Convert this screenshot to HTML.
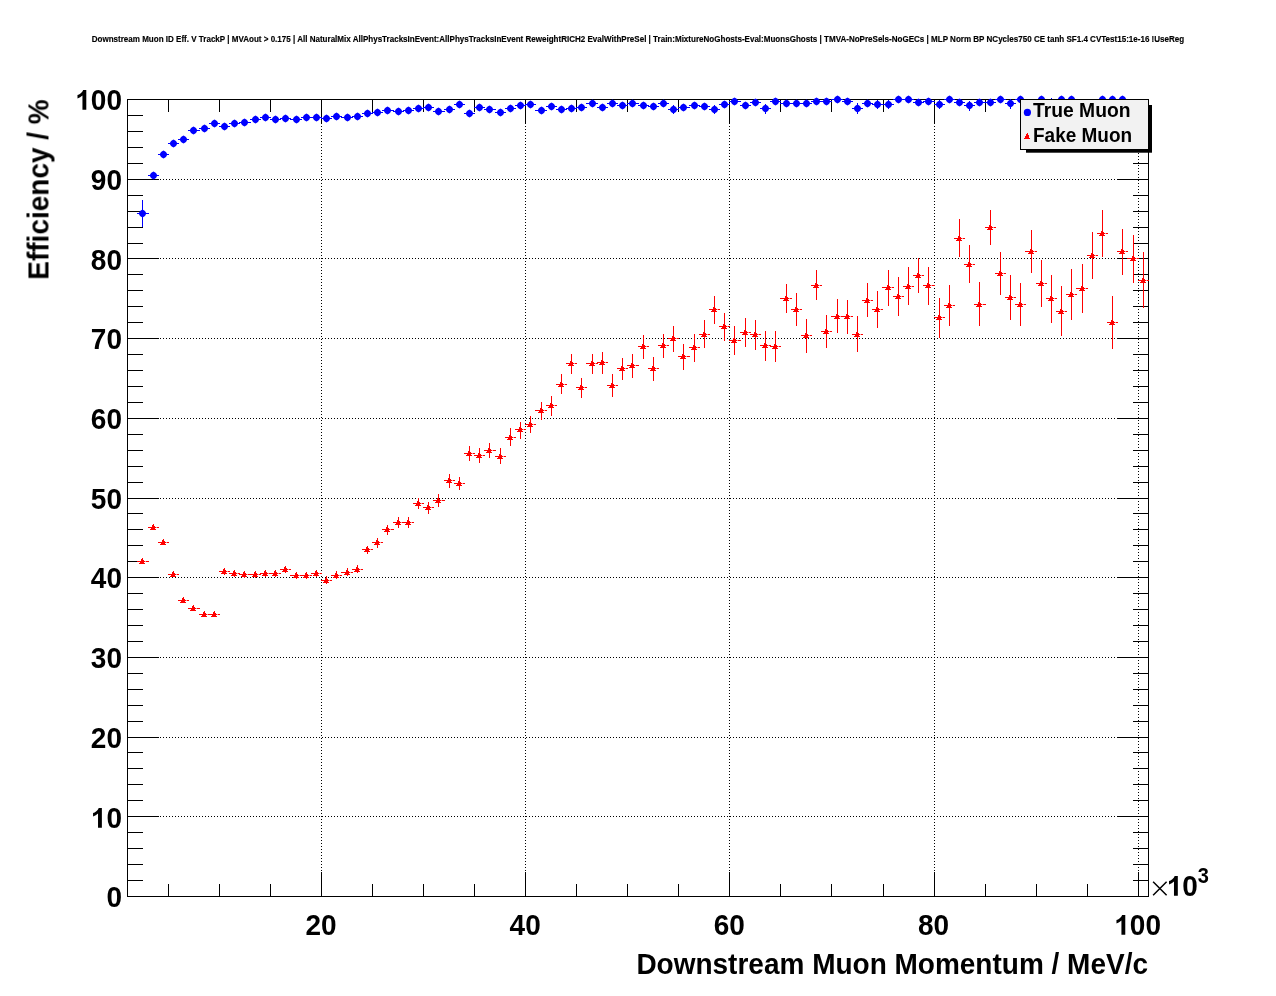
<!DOCTYPE html><html><head><meta charset="utf-8"><title>chart</title><style>html,body{margin:0;padding:0;background:#fff}svg{display:block}text{font-family:"Liberation Sans",sans-serif;font-weight:bold;fill:#000}</style></head><body>
<svg width="1276" height="996" viewBox="0 0 1276 996">
<rect width="1276" height="996" fill="#fff"/>
<g style="will-change:transform">
<text transform="translate(91.7,42) scale(1,1.06)" font-size="8.03" textLength="1092.5" lengthAdjust="spacingAndGlyphs" stroke="#000" stroke-width="0.15">Downstream Muon ID Eff. V TrackP | MVAout &gt; 0.175 | All NaturalMix AllPhysTracksInEvent:AllPhysTracksInEvent ReweightRICH2 EvalWithPreSel | Train:MixtureNoGhosts-Eval:MuonsGhosts | TMVA-NoPreSels-NoGECs | MLP Norm BP NCycles750 CE tanh SF1.4 CVTest15:1e-16 !UseReg</text>
</g>
<g stroke="#000" stroke-width="1" shape-rendering="crispEdges" stroke-dasharray="1,2">
<line x1="321.5" y1="99" x2="321.5" y2="896"/>
<line x1="525.5" y1="99" x2="525.5" y2="896"/>
<line x1="729.5" y1="99" x2="729.5" y2="896"/>
<line x1="934.5" y1="99" x2="934.5" y2="896"/>
<line x1="1138.5" y1="99" x2="1138.5" y2="896"/>
<line x1="127" y1="816.5" x2="1148" y2="816.5"/>
<line x1="127" y1="737.5" x2="1148" y2="737.5"/>
<line x1="127" y1="657.5" x2="1148" y2="657.5"/>
<line x1="127" y1="577.5" x2="1148" y2="577.5"/>
<line x1="127" y1="498.5" x2="1148" y2="498.5"/>
<line x1="127" y1="418.5" x2="1148" y2="418.5"/>
<line x1="127" y1="338.5" x2="1148" y2="338.5"/>
<line x1="127" y1="258.5" x2="1148" y2="258.5"/>
<line x1="127" y1="179.5" x2="1148" y2="179.5"/>
</g>
<g stroke="#000" stroke-width="1" shape-rendering="crispEdges" fill="none">
<rect x="127.5" y="99.5" width="1021" height="797"/>
<line x1="168.5" y1="896.5" x2="168.5" y2="884.0"/>
<line x1="168.5" y1="99.5" x2="168.5" y2="112.0"/>
<line x1="219.5" y1="896.5" x2="219.5" y2="884.0"/>
<line x1="219.5" y1="99.5" x2="219.5" y2="112.0"/>
<line x1="270.5" y1="896.5" x2="270.5" y2="884.0"/>
<line x1="270.5" y1="99.5" x2="270.5" y2="112.0"/>
<line x1="321.5" y1="896.5" x2="321.5" y2="872.0"/>
<line x1="321.5" y1="99.5" x2="321.5" y2="124.0"/>
<line x1="372.5" y1="896.5" x2="372.5" y2="884.0"/>
<line x1="372.5" y1="99.5" x2="372.5" y2="112.0"/>
<line x1="423.5" y1="896.5" x2="423.5" y2="884.0"/>
<line x1="423.5" y1="99.5" x2="423.5" y2="112.0"/>
<line x1="474.5" y1="896.5" x2="474.5" y2="884.0"/>
<line x1="474.5" y1="99.5" x2="474.5" y2="112.0"/>
<line x1="525.5" y1="896.5" x2="525.5" y2="872.0"/>
<line x1="525.5" y1="99.5" x2="525.5" y2="124.0"/>
<line x1="576.5" y1="896.5" x2="576.5" y2="884.0"/>
<line x1="576.5" y1="99.5" x2="576.5" y2="112.0"/>
<line x1="627.5" y1="896.5" x2="627.5" y2="884.0"/>
<line x1="627.5" y1="99.5" x2="627.5" y2="112.0"/>
<line x1="678.5" y1="896.5" x2="678.5" y2="884.0"/>
<line x1="678.5" y1="99.5" x2="678.5" y2="112.0"/>
<line x1="729.5" y1="896.5" x2="729.5" y2="872.0"/>
<line x1="729.5" y1="99.5" x2="729.5" y2="124.0"/>
<line x1="780.5" y1="896.5" x2="780.5" y2="884.0"/>
<line x1="780.5" y1="99.5" x2="780.5" y2="112.0"/>
<line x1="831.5" y1="896.5" x2="831.5" y2="884.0"/>
<line x1="831.5" y1="99.5" x2="831.5" y2="112.0"/>
<line x1="883.5" y1="896.5" x2="883.5" y2="884.0"/>
<line x1="883.5" y1="99.5" x2="883.5" y2="112.0"/>
<line x1="934.5" y1="896.5" x2="934.5" y2="872.0"/>
<line x1="934.5" y1="99.5" x2="934.5" y2="124.0"/>
<line x1="985.5" y1="896.5" x2="985.5" y2="884.0"/>
<line x1="985.5" y1="99.5" x2="985.5" y2="112.0"/>
<line x1="1036.5" y1="896.5" x2="1036.5" y2="884.0"/>
<line x1="1036.5" y1="99.5" x2="1036.5" y2="112.0"/>
<line x1="1087.5" y1="896.5" x2="1087.5" y2="884.0"/>
<line x1="1087.5" y1="99.5" x2="1087.5" y2="112.0"/>
<line x1="1138.5" y1="896.5" x2="1138.5" y2="872.0"/>
<line x1="1138.5" y1="99.5" x2="1138.5" y2="124.0"/>
<line x1="127.5" y1="896.5" x2="159.0" y2="896.5"/>
<line x1="1148.5" y1="896.5" x2="1117.0" y2="896.5"/>
<line x1="127.5" y1="880.5" x2="143.0" y2="880.5"/>
<line x1="1148.5" y1="880.5" x2="1133.0" y2="880.5"/>
<line x1="127.5" y1="864.5" x2="143.0" y2="864.5"/>
<line x1="1148.5" y1="864.5" x2="1133.0" y2="864.5"/>
<line x1="127.5" y1="848.5" x2="143.0" y2="848.5"/>
<line x1="1148.5" y1="848.5" x2="1133.0" y2="848.5"/>
<line x1="127.5" y1="832.5" x2="143.0" y2="832.5"/>
<line x1="1148.5" y1="832.5" x2="1133.0" y2="832.5"/>
<line x1="127.5" y1="816.5" x2="159.0" y2="816.5"/>
<line x1="1148.5" y1="816.5" x2="1117.0" y2="816.5"/>
<line x1="127.5" y1="800.5" x2="143.0" y2="800.5"/>
<line x1="1148.5" y1="800.5" x2="1133.0" y2="800.5"/>
<line x1="127.5" y1="784.5" x2="143.0" y2="784.5"/>
<line x1="1148.5" y1="784.5" x2="1133.0" y2="784.5"/>
<line x1="127.5" y1="768.5" x2="143.0" y2="768.5"/>
<line x1="1148.5" y1="768.5" x2="1133.0" y2="768.5"/>
<line x1="127.5" y1="752.5" x2="143.0" y2="752.5"/>
<line x1="1148.5" y1="752.5" x2="1133.0" y2="752.5"/>
<line x1="127.5" y1="737.5" x2="159.0" y2="737.5"/>
<line x1="1148.5" y1="737.5" x2="1117.0" y2="737.5"/>
<line x1="127.5" y1="721.5" x2="143.0" y2="721.5"/>
<line x1="1148.5" y1="721.5" x2="1133.0" y2="721.5"/>
<line x1="127.5" y1="705.5" x2="143.0" y2="705.5"/>
<line x1="1148.5" y1="705.5" x2="1133.0" y2="705.5"/>
<line x1="127.5" y1="689.5" x2="143.0" y2="689.5"/>
<line x1="1148.5" y1="689.5" x2="1133.0" y2="689.5"/>
<line x1="127.5" y1="673.5" x2="143.0" y2="673.5"/>
<line x1="1148.5" y1="673.5" x2="1133.0" y2="673.5"/>
<line x1="127.5" y1="657.5" x2="159.0" y2="657.5"/>
<line x1="1148.5" y1="657.5" x2="1117.0" y2="657.5"/>
<line x1="127.5" y1="641.5" x2="143.0" y2="641.5"/>
<line x1="1148.5" y1="641.5" x2="1133.0" y2="641.5"/>
<line x1="127.5" y1="625.5" x2="143.0" y2="625.5"/>
<line x1="1148.5" y1="625.5" x2="1133.0" y2="625.5"/>
<line x1="127.5" y1="609.5" x2="143.0" y2="609.5"/>
<line x1="1148.5" y1="609.5" x2="1133.0" y2="609.5"/>
<line x1="127.5" y1="593.5" x2="143.0" y2="593.5"/>
<line x1="1148.5" y1="593.5" x2="1133.0" y2="593.5"/>
<line x1="127.5" y1="577.5" x2="159.0" y2="577.5"/>
<line x1="1148.5" y1="577.5" x2="1117.0" y2="577.5"/>
<line x1="127.5" y1="561.5" x2="143.0" y2="561.5"/>
<line x1="1148.5" y1="561.5" x2="1133.0" y2="561.5"/>
<line x1="127.5" y1="545.5" x2="143.0" y2="545.5"/>
<line x1="1148.5" y1="545.5" x2="1133.0" y2="545.5"/>
<line x1="127.5" y1="529.5" x2="143.0" y2="529.5"/>
<line x1="1148.5" y1="529.5" x2="1133.0" y2="529.5"/>
<line x1="127.5" y1="513.5" x2="143.0" y2="513.5"/>
<line x1="1148.5" y1="513.5" x2="1133.0" y2="513.5"/>
<line x1="127.5" y1="498.5" x2="159.0" y2="498.5"/>
<line x1="1148.5" y1="498.5" x2="1117.0" y2="498.5"/>
<line x1="127.5" y1="482.5" x2="143.0" y2="482.5"/>
<line x1="1148.5" y1="482.5" x2="1133.0" y2="482.5"/>
<line x1="127.5" y1="466.5" x2="143.0" y2="466.5"/>
<line x1="1148.5" y1="466.5" x2="1133.0" y2="466.5"/>
<line x1="127.5" y1="450.5" x2="143.0" y2="450.5"/>
<line x1="1148.5" y1="450.5" x2="1133.0" y2="450.5"/>
<line x1="127.5" y1="434.5" x2="143.0" y2="434.5"/>
<line x1="1148.5" y1="434.5" x2="1133.0" y2="434.5"/>
<line x1="127.5" y1="418.5" x2="159.0" y2="418.5"/>
<line x1="1148.5" y1="418.5" x2="1117.0" y2="418.5"/>
<line x1="127.5" y1="402.5" x2="143.0" y2="402.5"/>
<line x1="1148.5" y1="402.5" x2="1133.0" y2="402.5"/>
<line x1="127.5" y1="386.5" x2="143.0" y2="386.5"/>
<line x1="1148.5" y1="386.5" x2="1133.0" y2="386.5"/>
<line x1="127.5" y1="370.5" x2="143.0" y2="370.5"/>
<line x1="1148.5" y1="370.5" x2="1133.0" y2="370.5"/>
<line x1="127.5" y1="354.5" x2="143.0" y2="354.5"/>
<line x1="1148.5" y1="354.5" x2="1133.0" y2="354.5"/>
<line x1="127.5" y1="338.5" x2="159.0" y2="338.5"/>
<line x1="1148.5" y1="338.5" x2="1117.0" y2="338.5"/>
<line x1="127.5" y1="322.5" x2="143.0" y2="322.5"/>
<line x1="1148.5" y1="322.5" x2="1133.0" y2="322.5"/>
<line x1="127.5" y1="306.5" x2="143.0" y2="306.5"/>
<line x1="1148.5" y1="306.5" x2="1133.0" y2="306.5"/>
<line x1="127.5" y1="290.5" x2="143.0" y2="290.5"/>
<line x1="1148.5" y1="290.5" x2="1133.0" y2="290.5"/>
<line x1="127.5" y1="274.5" x2="143.0" y2="274.5"/>
<line x1="1148.5" y1="274.5" x2="1133.0" y2="274.5"/>
<line x1="127.5" y1="258.5" x2="159.0" y2="258.5"/>
<line x1="1148.5" y1="258.5" x2="1117.0" y2="258.5"/>
<line x1="127.5" y1="243.5" x2="143.0" y2="243.5"/>
<line x1="1148.5" y1="243.5" x2="1133.0" y2="243.5"/>
<line x1="127.5" y1="227.5" x2="143.0" y2="227.5"/>
<line x1="1148.5" y1="227.5" x2="1133.0" y2="227.5"/>
<line x1="127.5" y1="211.5" x2="143.0" y2="211.5"/>
<line x1="1148.5" y1="211.5" x2="1133.0" y2="211.5"/>
<line x1="127.5" y1="195.5" x2="143.0" y2="195.5"/>
<line x1="1148.5" y1="195.5" x2="1133.0" y2="195.5"/>
<line x1="127.5" y1="179.5" x2="159.0" y2="179.5"/>
<line x1="1148.5" y1="179.5" x2="1117.0" y2="179.5"/>
<line x1="127.5" y1="163.5" x2="143.0" y2="163.5"/>
<line x1="1148.5" y1="163.5" x2="1133.0" y2="163.5"/>
<line x1="127.5" y1="147.5" x2="143.0" y2="147.5"/>
<line x1="1148.5" y1="147.5" x2="1133.0" y2="147.5"/>
<line x1="127.5" y1="131.5" x2="143.0" y2="131.5"/>
<line x1="1148.5" y1="131.5" x2="1133.0" y2="131.5"/>
<line x1="127.5" y1="115.5" x2="143.0" y2="115.5"/>
<line x1="1148.5" y1="115.5" x2="1133.0" y2="115.5"/>
<line x1="127.5" y1="99.5" x2="159.0" y2="99.5"/>
<line x1="1148.5" y1="99.5" x2="1117.0" y2="99.5"/>
</g>
<g stroke="#f00" stroke-width="1" shape-rendering="crispEdges">
<line x1="137" y1="561.5" x2="145" y2="561.5"/>
<line x1="146" y1="561.5" x2="149" y2="561.5"/>
<line x1="142.5" y1="558.7" x2="142.5" y2="563.5"/>
<line x1="145" y1="561.5" x2="146" y2="561.5" stroke="#ff9a9a"/>
<line x1="148" y1="527.5" x2="156" y2="527.5"/>
<line x1="157" y1="527.5" x2="159" y2="527.5"/>
<line x1="153.5" y1="525.2" x2="153.5" y2="529.0"/>
<line x1="156" y1="527.5" x2="157" y2="527.5" stroke="#ff9a9a"/>
<line x1="158" y1="542.5" x2="166" y2="542.5"/>
<line x1="167" y1="542.5" x2="169" y2="542.5"/>
<line x1="163.5" y1="540.2" x2="163.5" y2="544.0"/>
<line x1="166" y1="542.5" x2="167" y2="542.5" stroke="#ff9a9a"/>
<line x1="168" y1="574.5" x2="176" y2="574.5"/>
<line x1="177" y1="574.5" x2="179" y2="574.5"/>
<line x1="173.5" y1="572.2" x2="173.5" y2="576.0"/>
<line x1="176" y1="574.5" x2="177" y2="574.5" stroke="#ff9a9a"/>
<line x1="178" y1="600.5" x2="186" y2="600.5"/>
<line x1="187" y1="600.5" x2="189" y2="600.5"/>
<line x1="183.5" y1="598.2" x2="183.5" y2="602.0"/>
<line x1="186" y1="600.5" x2="187" y2="600.5" stroke="#ff9a9a"/>
<line x1="188" y1="608.5" x2="196" y2="608.5"/>
<line x1="197" y1="608.5" x2="200" y2="608.5"/>
<line x1="193.5" y1="606.2" x2="193.5" y2="610.0"/>
<line x1="196" y1="608.5" x2="197" y2="608.5" stroke="#ff9a9a"/>
<line x1="199" y1="614.5" x2="207" y2="614.5"/>
<line x1="208" y1="614.5" x2="210" y2="614.5"/>
<line x1="204.5" y1="612.2" x2="204.5" y2="616.0"/>
<line x1="207" y1="614.5" x2="208" y2="614.5" stroke="#ff9a9a"/>
<line x1="209" y1="614.5" x2="217" y2="614.5"/>
<line x1="218" y1="614.5" x2="220" y2="614.5"/>
<line x1="214.5" y1="612.2" x2="214.5" y2="616.0"/>
<line x1="217" y1="614.5" x2="218" y2="614.5" stroke="#ff9a9a"/>
<line x1="219" y1="571.5" x2="227" y2="571.5"/>
<line x1="228" y1="571.5" x2="230" y2="571.5"/>
<line x1="224.5" y1="567.7" x2="224.5" y2="574.5"/>
<line x1="227" y1="571.5" x2="228" y2="571.5" stroke="#ff9a9a"/>
<line x1="229" y1="573.5" x2="237" y2="573.5"/>
<line x1="238" y1="573.5" x2="240" y2="573.5"/>
<line x1="234.5" y1="569.7" x2="234.5" y2="576.5"/>
<line x1="237" y1="573.5" x2="238" y2="573.5" stroke="#ff9a9a"/>
<line x1="239" y1="574.5" x2="247" y2="574.5"/>
<line x1="248" y1="574.5" x2="251" y2="574.5"/>
<line x1="244.5" y1="570.7" x2="244.5" y2="577.5"/>
<line x1="247" y1="574.5" x2="248" y2="574.5" stroke="#ff9a9a"/>
<line x1="250" y1="574.5" x2="258" y2="574.5"/>
<line x1="259" y1="574.5" x2="261" y2="574.5"/>
<line x1="255.5" y1="570.7" x2="255.5" y2="577.5"/>
<line x1="258" y1="574.5" x2="259" y2="574.5" stroke="#ff9a9a"/>
<line x1="260" y1="573.5" x2="268" y2="573.5"/>
<line x1="269" y1="573.5" x2="271" y2="573.5"/>
<line x1="265.5" y1="569.7" x2="265.5" y2="576.5"/>
<line x1="268" y1="573.5" x2="269" y2="573.5" stroke="#ff9a9a"/>
<line x1="270" y1="573.5" x2="278" y2="573.5"/>
<line x1="279" y1="573.5" x2="281" y2="573.5"/>
<line x1="275.5" y1="569.7" x2="275.5" y2="576.5"/>
<line x1="278" y1="573.5" x2="279" y2="573.5" stroke="#ff9a9a"/>
<line x1="280" y1="569.5" x2="288" y2="569.5"/>
<line x1="289" y1="569.5" x2="291" y2="569.5"/>
<line x1="285.5" y1="565.7" x2="285.5" y2="572.5"/>
<line x1="288" y1="569.5" x2="289" y2="569.5" stroke="#ff9a9a"/>
<line x1="290" y1="575.5" x2="299" y2="575.5"/>
<line x1="300" y1="575.5" x2="302" y2="575.5"/>
<line x1="296.5" y1="571.7" x2="296.5" y2="578.5"/>
<line x1="299" y1="575.5" x2="300" y2="575.5" stroke="#ff9a9a"/>
<line x1="301" y1="575.5" x2="309" y2="575.5"/>
<line x1="310" y1="575.5" x2="312" y2="575.5"/>
<line x1="306.5" y1="571.7" x2="306.5" y2="578.5"/>
<line x1="309" y1="575.5" x2="310" y2="575.5" stroke="#ff9a9a"/>
<line x1="311" y1="573.5" x2="319" y2="573.5"/>
<line x1="320" y1="573.5" x2="322" y2="573.5"/>
<line x1="316.5" y1="569.7" x2="316.5" y2="576.5"/>
<line x1="319" y1="573.5" x2="320" y2="573.5" stroke="#ff9a9a"/>
<line x1="321" y1="580.5" x2="329" y2="580.5"/>
<line x1="330" y1="580.5" x2="332" y2="580.5"/>
<line x1="326.5" y1="576.2" x2="326.5" y2="584.0"/>
<line x1="329" y1="580.5" x2="330" y2="580.5" stroke="#ff9a9a"/>
<line x1="331" y1="575.5" x2="339" y2="575.5"/>
<line x1="340" y1="575.5" x2="342" y2="575.5"/>
<line x1="336.5" y1="571.2" x2="336.5" y2="579.0"/>
<line x1="339" y1="575.5" x2="340" y2="575.5" stroke="#ff9a9a"/>
<line x1="341" y1="572.5" x2="350" y2="572.5"/>
<line x1="351" y1="572.5" x2="353" y2="572.5"/>
<line x1="347.5" y1="568.2" x2="347.5" y2="576.0"/>
<line x1="350" y1="572.5" x2="351" y2="572.5" stroke="#ff9a9a"/>
<line x1="352" y1="569.5" x2="360" y2="569.5"/>
<line x1="361" y1="569.5" x2="363" y2="569.5"/>
<line x1="357.5" y1="564.9" x2="357.5" y2="573.3"/>
<line x1="360" y1="569.5" x2="361" y2="569.5" stroke="#ff9a9a"/>
<line x1="362" y1="549.5" x2="370" y2="549.5"/>
<line x1="371" y1="549.5" x2="373" y2="549.5"/>
<line x1="367.5" y1="546" x2="367.5" y2="554"/>
<line x1="370" y1="549.5" x2="371" y2="549.5" stroke="#ff9a9a"/>
<line x1="372" y1="542.5" x2="380" y2="542.5"/>
<line x1="381" y1="542.5" x2="383" y2="542.5"/>
<line x1="377.5" y1="538" x2="377.5" y2="548"/>
<line x1="380" y1="542.5" x2="381" y2="542.5" stroke="#ff9a9a"/>
<line x1="382" y1="529.5" x2="390" y2="529.5"/>
<line x1="391" y1="529.5" x2="394" y2="529.5"/>
<line x1="387.5" y1="525" x2="387.5" y2="535"/>
<line x1="390" y1="529.5" x2="391" y2="529.5" stroke="#ff9a9a"/>
<line x1="393" y1="522.5" x2="401" y2="522.5"/>
<line x1="402" y1="522.5" x2="404" y2="522.5"/>
<line x1="398.5" y1="517" x2="398.5" y2="528"/>
<line x1="401" y1="522.5" x2="402" y2="522.5" stroke="#ff9a9a"/>
<line x1="403" y1="522.5" x2="411" y2="522.5"/>
<line x1="412" y1="522.5" x2="414" y2="522.5"/>
<line x1="408.5" y1="517" x2="408.5" y2="528"/>
<line x1="411" y1="522.5" x2="412" y2="522.5" stroke="#ff9a9a"/>
<line x1="413" y1="503.5" x2="421" y2="503.5"/>
<line x1="422" y1="503.5" x2="424" y2="503.5"/>
<line x1="418.5" y1="498" x2="418.5" y2="509"/>
<line x1="421" y1="503.5" x2="422" y2="503.5" stroke="#ff9a9a"/>
<line x1="423" y1="507.5" x2="431" y2="507.5"/>
<line x1="432" y1="507.5" x2="434" y2="507.5"/>
<line x1="428.5" y1="502" x2="428.5" y2="514"/>
<line x1="431" y1="507.5" x2="432" y2="507.5" stroke="#ff9a9a"/>
<line x1="433" y1="500.5" x2="441" y2="500.5"/>
<line x1="442" y1="500.5" x2="445" y2="500.5"/>
<line x1="438.5" y1="494" x2="438.5" y2="507"/>
<line x1="441" y1="500.5" x2="442" y2="500.5" stroke="#ff9a9a"/>
<line x1="444" y1="480.5" x2="452" y2="480.5"/>
<line x1="453" y1="480.5" x2="455" y2="480.5"/>
<line x1="449.5" y1="474" x2="449.5" y2="488"/>
<line x1="452" y1="480.5" x2="453" y2="480.5" stroke="#ff9a9a"/>
<line x1="454" y1="483.5" x2="462" y2="483.5"/>
<line x1="463" y1="483.5" x2="465" y2="483.5"/>
<line x1="459.5" y1="477" x2="459.5" y2="490"/>
<line x1="462" y1="483.5" x2="463" y2="483.5" stroke="#ff9a9a"/>
<line x1="464" y1="453.5" x2="472" y2="453.5"/>
<line x1="473" y1="453.5" x2="475" y2="453.5"/>
<line x1="469.5" y1="446" x2="469.5" y2="461"/>
<line x1="472" y1="453.5" x2="473" y2="453.5" stroke="#ff9a9a"/>
<line x1="474" y1="455.5" x2="482" y2="455.5"/>
<line x1="483" y1="455.5" x2="485" y2="455.5"/>
<line x1="479.5" y1="448" x2="479.5" y2="463"/>
<line x1="482" y1="455.5" x2="483" y2="455.5" stroke="#ff9a9a"/>
<line x1="484" y1="450.5" x2="492" y2="450.5"/>
<line x1="493" y1="450.5" x2="496" y2="450.5"/>
<line x1="489.5" y1="443" x2="489.5" y2="458"/>
<line x1="492" y1="450.5" x2="493" y2="450.5" stroke="#ff9a9a"/>
<line x1="495" y1="456.5" x2="503" y2="456.5"/>
<line x1="504" y1="456.5" x2="506" y2="456.5"/>
<line x1="500.5" y1="448" x2="500.5" y2="464"/>
<line x1="503" y1="456.5" x2="504" y2="456.5" stroke="#ff9a9a"/>
<line x1="505" y1="437.5" x2="513" y2="437.5"/>
<line x1="514" y1="437.5" x2="516" y2="437.5"/>
<line x1="510.5" y1="428" x2="510.5" y2="446"/>
<line x1="513" y1="437.5" x2="514" y2="437.5" stroke="#ff9a9a"/>
<line x1="515" y1="429.5" x2="523" y2="429.5"/>
<line x1="524" y1="429.5" x2="526" y2="429.5"/>
<line x1="520.5" y1="422" x2="520.5" y2="439"/>
<line x1="523" y1="429.5" x2="524" y2="429.5" stroke="#ff9a9a"/>
<line x1="525" y1="424.5" x2="533" y2="424.5"/>
<line x1="534" y1="424.5" x2="536" y2="424.5"/>
<line x1="530.5" y1="416" x2="530.5" y2="433"/>
<line x1="533" y1="424.5" x2="534" y2="424.5" stroke="#ff9a9a"/>
<line x1="535" y1="410.5" x2="544" y2="410.5"/>
<line x1="545" y1="410.5" x2="547" y2="410.5"/>
<line x1="541.5" y1="402" x2="541.5" y2="420"/>
<line x1="544" y1="410.5" x2="545" y2="410.5" stroke="#ff9a9a"/>
<line x1="546" y1="405.5" x2="554" y2="405.5"/>
<line x1="555" y1="405.5" x2="557" y2="405.5"/>
<line x1="551.5" y1="396" x2="551.5" y2="416"/>
<line x1="554" y1="405.5" x2="555" y2="405.5" stroke="#ff9a9a"/>
<line x1="556" y1="384.5" x2="564" y2="384.5"/>
<line x1="565" y1="384.5" x2="567" y2="384.5"/>
<line x1="561.5" y1="374" x2="561.5" y2="394"/>
<line x1="564" y1="384.5" x2="565" y2="384.5" stroke="#ff9a9a"/>
<line x1="566" y1="363.5" x2="574" y2="363.5"/>
<line x1="575" y1="363.5" x2="577" y2="363.5"/>
<line x1="571.5" y1="354" x2="571.5" y2="374"/>
<line x1="574" y1="363.5" x2="575" y2="363.5" stroke="#ff9a9a"/>
<line x1="576" y1="387.5" x2="584" y2="387.5"/>
<line x1="585" y1="387.5" x2="587" y2="387.5"/>
<line x1="581.5" y1="378" x2="581.5" y2="398"/>
<line x1="584" y1="387.5" x2="585" y2="387.5" stroke="#ff9a9a"/>
<line x1="586" y1="363.5" x2="595" y2="363.5"/>
<line x1="596" y1="363.5" x2="598" y2="363.5"/>
<line x1="592.5" y1="354" x2="592.5" y2="374"/>
<line x1="595" y1="363.5" x2="596" y2="363.5" stroke="#ff9a9a"/>
<line x1="597" y1="362.5" x2="605" y2="362.5"/>
<line x1="606" y1="362.5" x2="608" y2="362.5"/>
<line x1="602.5" y1="352" x2="602.5" y2="374"/>
<line x1="605" y1="362.5" x2="606" y2="362.5" stroke="#ff9a9a"/>
<line x1="607" y1="385.5" x2="615" y2="385.5"/>
<line x1="616" y1="385.5" x2="618" y2="385.5"/>
<line x1="612.5" y1="374" x2="612.5" y2="397"/>
<line x1="615" y1="385.5" x2="616" y2="385.5" stroke="#ff9a9a"/>
<line x1="617" y1="368.5" x2="625" y2="368.5"/>
<line x1="626" y1="368.5" x2="628" y2="368.5"/>
<line x1="622.5" y1="358" x2="622.5" y2="380"/>
<line x1="625" y1="368.5" x2="626" y2="368.5" stroke="#ff9a9a"/>
<line x1="627" y1="365.5" x2="635" y2="365.5"/>
<line x1="636" y1="365.5" x2="639" y2="365.5"/>
<line x1="632.5" y1="354" x2="632.5" y2="378"/>
<line x1="635" y1="365.5" x2="636" y2="365.5" stroke="#ff9a9a"/>
<line x1="638" y1="346.5" x2="646" y2="346.5"/>
<line x1="647" y1="346.5" x2="649" y2="346.5"/>
<line x1="643.5" y1="335" x2="643.5" y2="359"/>
<line x1="646" y1="346.5" x2="647" y2="346.5" stroke="#ff9a9a"/>
<line x1="648" y1="368.5" x2="656" y2="368.5"/>
<line x1="657" y1="368.5" x2="659" y2="368.5"/>
<line x1="653.5" y1="357" x2="653.5" y2="381"/>
<line x1="656" y1="368.5" x2="657" y2="368.5" stroke="#ff9a9a"/>
<line x1="658" y1="345.5" x2="666" y2="345.5"/>
<line x1="667" y1="345.5" x2="669" y2="345.5"/>
<line x1="663.5" y1="334" x2="663.5" y2="358"/>
<line x1="666" y1="345.5" x2="667" y2="345.5" stroke="#ff9a9a"/>
<line x1="668" y1="338.5" x2="676" y2="338.5"/>
<line x1="677" y1="338.5" x2="679" y2="338.5"/>
<line x1="673.5" y1="326" x2="673.5" y2="352"/>
<line x1="676" y1="338.5" x2="677" y2="338.5" stroke="#ff9a9a"/>
<line x1="678" y1="356.5" x2="686" y2="356.5"/>
<line x1="687" y1="356.5" x2="690" y2="356.5"/>
<line x1="683.5" y1="344" x2="683.5" y2="370"/>
<line x1="686" y1="356.5" x2="687" y2="356.5" stroke="#ff9a9a"/>
<line x1="689" y1="347.5" x2="697" y2="347.5"/>
<line x1="698" y1="347.5" x2="700" y2="347.5"/>
<line x1="694.5" y1="334" x2="694.5" y2="362"/>
<line x1="697" y1="347.5" x2="698" y2="347.5" stroke="#ff9a9a"/>
<line x1="699" y1="334.5" x2="707" y2="334.5"/>
<line x1="708" y1="334.5" x2="710" y2="334.5"/>
<line x1="704.5" y1="320" x2="704.5" y2="348"/>
<line x1="707" y1="334.5" x2="708" y2="334.5" stroke="#ff9a9a"/>
<line x1="709" y1="309.5" x2="717" y2="309.5"/>
<line x1="718" y1="309.5" x2="720" y2="309.5"/>
<line x1="714.5" y1="296" x2="714.5" y2="324"/>
<line x1="717" y1="309.5" x2="718" y2="309.5" stroke="#ff9a9a"/>
<line x1="719" y1="326.5" x2="727" y2="326.5"/>
<line x1="728" y1="326.5" x2="730" y2="326.5"/>
<line x1="724.5" y1="313" x2="724.5" y2="341"/>
<line x1="727" y1="326.5" x2="728" y2="326.5" stroke="#ff9a9a"/>
<line x1="729" y1="340.5" x2="737" y2="340.5"/>
<line x1="738" y1="340.5" x2="741" y2="340.5"/>
<line x1="734.5" y1="326" x2="734.5" y2="355"/>
<line x1="737" y1="340.5" x2="738" y2="340.5" stroke="#ff9a9a"/>
<line x1="740" y1="332.5" x2="748" y2="332.5"/>
<line x1="749" y1="332.5" x2="751" y2="332.5"/>
<line x1="745.5" y1="318" x2="745.5" y2="347"/>
<line x1="748" y1="332.5" x2="749" y2="332.5" stroke="#ff9a9a"/>
<line x1="750" y1="334.5" x2="758" y2="334.5"/>
<line x1="759" y1="334.5" x2="761" y2="334.5"/>
<line x1="755.5" y1="320" x2="755.5" y2="350"/>
<line x1="758" y1="334.5" x2="759" y2="334.5" stroke="#ff9a9a"/>
<line x1="760" y1="345.5" x2="768" y2="345.5"/>
<line x1="769" y1="345.5" x2="771" y2="345.5"/>
<line x1="765.5" y1="331" x2="765.5" y2="361"/>
<line x1="768" y1="345.5" x2="769" y2="345.5" stroke="#ff9a9a"/>
<line x1="770" y1="346.5" x2="778" y2="346.5"/>
<line x1="779" y1="346.5" x2="781" y2="346.5"/>
<line x1="775.5" y1="331" x2="775.5" y2="362"/>
<line x1="778" y1="346.5" x2="779" y2="346.5" stroke="#ff9a9a"/>
<line x1="780" y1="298.5" x2="789" y2="298.5"/>
<line x1="790" y1="298.5" x2="792" y2="298.5"/>
<line x1="786.5" y1="284" x2="786.5" y2="313"/>
<line x1="789" y1="298.5" x2="790" y2="298.5" stroke="#ff9a9a"/>
<line x1="791" y1="309.5" x2="799" y2="309.5"/>
<line x1="800" y1="309.5" x2="802" y2="309.5"/>
<line x1="796.5" y1="293" x2="796.5" y2="326"/>
<line x1="799" y1="309.5" x2="800" y2="309.5" stroke="#ff9a9a"/>
<line x1="801" y1="335.5" x2="809" y2="335.5"/>
<line x1="810" y1="335.5" x2="812" y2="335.5"/>
<line x1="806.5" y1="319" x2="806.5" y2="353"/>
<line x1="809" y1="335.5" x2="810" y2="335.5" stroke="#ff9a9a"/>
<line x1="811" y1="285.5" x2="819" y2="285.5"/>
<line x1="820" y1="285.5" x2="822" y2="285.5"/>
<line x1="816.5" y1="270" x2="816.5" y2="300"/>
<line x1="819" y1="285.5" x2="820" y2="285.5" stroke="#ff9a9a"/>
<line x1="821" y1="331.5" x2="829" y2="331.5"/>
<line x1="830" y1="331.5" x2="832" y2="331.5"/>
<line x1="826.5" y1="315" x2="826.5" y2="348"/>
<line x1="829" y1="331.5" x2="830" y2="331.5" stroke="#ff9a9a"/>
<line x1="831" y1="316.5" x2="840" y2="316.5"/>
<line x1="841" y1="316.5" x2="843" y2="316.5"/>
<line x1="837.5" y1="299" x2="837.5" y2="333"/>
<line x1="840" y1="316.5" x2="841" y2="316.5" stroke="#ff9a9a"/>
<line x1="842" y1="316.5" x2="850" y2="316.5"/>
<line x1="851" y1="316.5" x2="853" y2="316.5"/>
<line x1="847.5" y1="300" x2="847.5" y2="334"/>
<line x1="850" y1="316.5" x2="851" y2="316.5" stroke="#ff9a9a"/>
<line x1="852" y1="334.5" x2="860" y2="334.5"/>
<line x1="861" y1="334.5" x2="863" y2="334.5"/>
<line x1="857.5" y1="316" x2="857.5" y2="352"/>
<line x1="860" y1="334.5" x2="861" y2="334.5" stroke="#ff9a9a"/>
<line x1="862" y1="300.5" x2="870" y2="300.5"/>
<line x1="871" y1="300.5" x2="873" y2="300.5"/>
<line x1="867.5" y1="283" x2="867.5" y2="317"/>
<line x1="870" y1="300.5" x2="871" y2="300.5" stroke="#ff9a9a"/>
<line x1="872" y1="309.5" x2="880" y2="309.5"/>
<line x1="881" y1="309.5" x2="883" y2="309.5"/>
<line x1="877.5" y1="291" x2="877.5" y2="328"/>
<line x1="880" y1="309.5" x2="881" y2="309.5" stroke="#ff9a9a"/>
<line x1="882" y1="287.5" x2="891" y2="287.5"/>
<line x1="892" y1="287.5" x2="894" y2="287.5"/>
<line x1="888.5" y1="270" x2="888.5" y2="306"/>
<line x1="891" y1="287.5" x2="892" y2="287.5" stroke="#ff9a9a"/>
<line x1="893" y1="296.5" x2="901" y2="296.5"/>
<line x1="902" y1="296.5" x2="904" y2="296.5"/>
<line x1="898.5" y1="277" x2="898.5" y2="316"/>
<line x1="901" y1="296.5" x2="902" y2="296.5" stroke="#ff9a9a"/>
<line x1="903" y1="286.5" x2="911" y2="286.5"/>
<line x1="912" y1="286.5" x2="914" y2="286.5"/>
<line x1="908.5" y1="267" x2="908.5" y2="305"/>
<line x1="911" y1="286.5" x2="912" y2="286.5" stroke="#ff9a9a"/>
<line x1="913" y1="275.5" x2="921" y2="275.5"/>
<line x1="922" y1="275.5" x2="924" y2="275.5"/>
<line x1="918.5" y1="258" x2="918.5" y2="293"/>
<line x1="921" y1="275.5" x2="922" y2="275.5" stroke="#ff9a9a"/>
<line x1="923" y1="285.5" x2="931" y2="285.5"/>
<line x1="932" y1="285.5" x2="935" y2="285.5"/>
<line x1="928.5" y1="267" x2="928.5" y2="305"/>
<line x1="931" y1="285.5" x2="932" y2="285.5" stroke="#ff9a9a"/>
<line x1="934" y1="317.5" x2="942" y2="317.5"/>
<line x1="943" y1="317.5" x2="945" y2="317.5"/>
<line x1="939.5" y1="298" x2="939.5" y2="338"/>
<line x1="942" y1="317.5" x2="943" y2="317.5" stroke="#ff9a9a"/>
<line x1="944" y1="305.5" x2="952" y2="305.5"/>
<line x1="953" y1="305.5" x2="955" y2="305.5"/>
<line x1="949.5" y1="285" x2="949.5" y2="326"/>
<line x1="952" y1="305.5" x2="953" y2="305.5" stroke="#ff9a9a"/>
<line x1="954" y1="238.5" x2="962" y2="238.5"/>
<line x1="963" y1="238.5" x2="965" y2="238.5"/>
<line x1="959.5" y1="219" x2="959.5" y2="257"/>
<line x1="962" y1="238.5" x2="963" y2="238.5" stroke="#ff9a9a"/>
<line x1="964" y1="264.5" x2="972" y2="264.5"/>
<line x1="973" y1="264.5" x2="975" y2="264.5"/>
<line x1="969.5" y1="245" x2="969.5" y2="283"/>
<line x1="972" y1="264.5" x2="973" y2="264.5" stroke="#ff9a9a"/>
<line x1="974" y1="304.5" x2="982" y2="304.5"/>
<line x1="983" y1="304.5" x2="986" y2="304.5"/>
<line x1="979.5" y1="282" x2="979.5" y2="326"/>
<line x1="982" y1="304.5" x2="983" y2="304.5" stroke="#ff9a9a"/>
<line x1="985" y1="227.5" x2="993" y2="227.5"/>
<line x1="994" y1="227.5" x2="996" y2="227.5"/>
<line x1="990.5" y1="210" x2="990.5" y2="245"/>
<line x1="993" y1="227.5" x2="994" y2="227.5" stroke="#ff9a9a"/>
<line x1="995" y1="273.5" x2="1003" y2="273.5"/>
<line x1="1004" y1="273.5" x2="1006" y2="273.5"/>
<line x1="1000.5" y1="252" x2="1000.5" y2="295"/>
<line x1="1003" y1="273.5" x2="1004" y2="273.5" stroke="#ff9a9a"/>
<line x1="1005" y1="297.5" x2="1013" y2="297.5"/>
<line x1="1014" y1="297.5" x2="1016" y2="297.5"/>
<line x1="1010.5" y1="275" x2="1010.5" y2="320"/>
<line x1="1013" y1="297.5" x2="1014" y2="297.5" stroke="#ff9a9a"/>
<line x1="1015" y1="304.5" x2="1023" y2="304.5"/>
<line x1="1024" y1="304.5" x2="1026" y2="304.5"/>
<line x1="1020.5" y1="283" x2="1020.5" y2="326"/>
<line x1="1023" y1="304.5" x2="1024" y2="304.5" stroke="#ff9a9a"/>
<line x1="1025" y1="251.5" x2="1034" y2="251.5"/>
<line x1="1035" y1="251.5" x2="1037" y2="251.5"/>
<line x1="1031.5" y1="230" x2="1031.5" y2="273"/>
<line x1="1034" y1="251.5" x2="1035" y2="251.5" stroke="#ff9a9a"/>
<line x1="1036" y1="283.5" x2="1044" y2="283.5"/>
<line x1="1045" y1="283.5" x2="1047" y2="283.5"/>
<line x1="1041.5" y1="260" x2="1041.5" y2="307"/>
<line x1="1044" y1="283.5" x2="1045" y2="283.5" stroke="#ff9a9a"/>
<line x1="1046" y1="298.5" x2="1054" y2="298.5"/>
<line x1="1055" y1="298.5" x2="1057" y2="298.5"/>
<line x1="1051.5" y1="275" x2="1051.5" y2="323"/>
<line x1="1054" y1="298.5" x2="1055" y2="298.5" stroke="#ff9a9a"/>
<line x1="1056" y1="311.5" x2="1064" y2="311.5"/>
<line x1="1065" y1="311.5" x2="1067" y2="311.5"/>
<line x1="1061.5" y1="286" x2="1061.5" y2="336"/>
<line x1="1064" y1="311.5" x2="1065" y2="311.5" stroke="#ff9a9a"/>
<line x1="1066" y1="294.5" x2="1074" y2="294.5"/>
<line x1="1075" y1="294.5" x2="1077" y2="294.5"/>
<line x1="1071.5" y1="269" x2="1071.5" y2="320"/>
<line x1="1074" y1="294.5" x2="1075" y2="294.5" stroke="#ff9a9a"/>
<line x1="1076" y1="288.5" x2="1085" y2="288.5"/>
<line x1="1086" y1="288.5" x2="1088" y2="288.5"/>
<line x1="1082.5" y1="264" x2="1082.5" y2="313"/>
<line x1="1085" y1="288.5" x2="1086" y2="288.5" stroke="#ff9a9a"/>
<line x1="1087" y1="255.5" x2="1095" y2="255.5"/>
<line x1="1096" y1="255.5" x2="1098" y2="255.5"/>
<line x1="1092.5" y1="232" x2="1092.5" y2="279"/>
<line x1="1095" y1="255.5" x2="1096" y2="255.5" stroke="#ff9a9a"/>
<line x1="1097" y1="233.5" x2="1105" y2="233.5"/>
<line x1="1106" y1="233.5" x2="1108" y2="233.5"/>
<line x1="1102.5" y1="210" x2="1102.5" y2="257"/>
<line x1="1105" y1="233.5" x2="1106" y2="233.5" stroke="#ff9a9a"/>
<line x1="1107" y1="322.5" x2="1115" y2="322.5"/>
<line x1="1116" y1="322.5" x2="1118" y2="322.5"/>
<line x1="1112.5" y1="296" x2="1112.5" y2="349"/>
<line x1="1115" y1="322.5" x2="1116" y2="322.5" stroke="#ff9a9a"/>
<line x1="1117" y1="251.5" x2="1125" y2="251.5"/>
<line x1="1126" y1="251.5" x2="1128" y2="251.5"/>
<line x1="1122.5" y1="229" x2="1122.5" y2="275"/>
<line x1="1125" y1="251.5" x2="1126" y2="251.5" stroke="#ff9a9a"/>
<line x1="1127" y1="258.5" x2="1136" y2="258.5"/>
<line x1="1137" y1="258.5" x2="1139" y2="258.5"/>
<line x1="1133.5" y1="235" x2="1133.5" y2="283"/>
<line x1="1136" y1="258.5" x2="1137" y2="258.5" stroke="#ff9a9a"/>
<line x1="1138" y1="280.5" x2="1146" y2="280.5"/>
<line x1="1147" y1="280.5" x2="1149" y2="280.5"/>
<line x1="1143.5" y1="252" x2="1143.5" y2="308"/>
<line x1="1146" y1="280.5" x2="1147" y2="280.5" stroke="#ff9a9a"/>
</g><g fill="#f00" shape-rendering="crispEdges">
<path d="M142 558h1v1h-1zM141 559h2v1h-2zM141 560h3v1h-3zM140 561h4v1h-4zM140 562h4v1h-4zM139 563h6v1h-6z"/>
<path d="M153 524h1v1h-1zM152 525h2v1h-2zM152 526h3v1h-3zM151 527h4v1h-4zM151 528h4v1h-4zM150 529h6v1h-6z"/>
<path d="M163 539h1v1h-1zM162 540h2v1h-2zM162 541h3v1h-3zM161 542h4v1h-4zM161 543h4v1h-4zM160 544h6v1h-6z"/>
<path d="M173 571h1v1h-1zM172 572h2v1h-2zM172 573h3v1h-3zM171 574h4v1h-4zM171 575h4v1h-4zM170 576h6v1h-6z"/>
<path d="M183 597h1v1h-1zM182 598h2v1h-2zM182 599h3v1h-3zM181 600h4v1h-4zM181 601h4v1h-4zM180 602h6v1h-6z"/>
<path d="M193 605h1v1h-1zM192 606h2v1h-2zM192 607h3v1h-3zM191 608h4v1h-4zM191 609h4v1h-4zM190 610h6v1h-6z"/>
<path d="M204 611h1v1h-1zM203 612h2v1h-2zM203 613h3v1h-3zM202 614h4v1h-4zM202 615h4v1h-4zM201 616h6v1h-6z"/>
<path d="M214 611h1v1h-1zM213 612h2v1h-2zM213 613h3v1h-3zM212 614h4v1h-4zM212 615h4v1h-4zM211 616h6v1h-6z"/>
<path d="M224 568h1v1h-1zM223 569h2v1h-2zM223 570h3v1h-3zM222 571h4v1h-4zM222 572h4v1h-4zM221 573h6v1h-6z"/>
<path d="M234 570h1v1h-1zM233 571h2v1h-2zM233 572h3v1h-3zM232 573h4v1h-4zM232 574h4v1h-4zM231 575h6v1h-6z"/>
<path d="M244 571h1v1h-1zM243 572h2v1h-2zM243 573h3v1h-3zM242 574h4v1h-4zM242 575h4v1h-4zM241 576h6v1h-6z"/>
<path d="M255 571h1v1h-1zM254 572h2v1h-2zM254 573h3v1h-3zM253 574h4v1h-4zM253 575h4v1h-4zM252 576h6v1h-6z"/>
<path d="M265 570h1v1h-1zM264 571h2v1h-2zM264 572h3v1h-3zM263 573h4v1h-4zM263 574h4v1h-4zM262 575h6v1h-6z"/>
<path d="M275 570h1v1h-1zM274 571h2v1h-2zM274 572h3v1h-3zM273 573h4v1h-4zM273 574h4v1h-4zM272 575h6v1h-6z"/>
<path d="M285 566h1v1h-1zM284 567h2v1h-2zM284 568h3v1h-3zM283 569h4v1h-4zM283 570h4v1h-4zM282 571h6v1h-6z"/>
<path d="M296 572h1v1h-1zM295 573h2v1h-2zM295 574h3v1h-3zM294 575h4v1h-4zM294 576h4v1h-4zM293 577h6v1h-6z"/>
<path d="M306 572h1v1h-1zM305 573h2v1h-2zM305 574h3v1h-3zM304 575h4v1h-4zM304 576h4v1h-4zM303 577h6v1h-6z"/>
<path d="M316 570h1v1h-1zM315 571h2v1h-2zM315 572h3v1h-3zM314 573h4v1h-4zM314 574h4v1h-4zM313 575h6v1h-6z"/>
<path d="M326 577h1v1h-1zM325 578h2v1h-2zM325 579h3v1h-3zM324 580h4v1h-4zM324 581h4v1h-4zM323 582h6v1h-6z"/>
<path d="M336 572h1v1h-1zM335 573h2v1h-2zM335 574h3v1h-3zM334 575h4v1h-4zM334 576h4v1h-4zM333 577h6v1h-6z"/>
<path d="M347 569h1v1h-1zM346 570h2v1h-2zM346 571h3v1h-3zM345 572h4v1h-4zM345 573h4v1h-4zM344 574h6v1h-6z"/>
<path d="M357 566h1v1h-1zM356 567h2v1h-2zM356 568h3v1h-3zM355 569h4v1h-4zM355 570h4v1h-4zM354 571h6v1h-6z"/>
<path d="M367 546h1v1h-1zM366 547h2v1h-2zM366 548h3v1h-3zM365 549h4v1h-4zM365 550h4v1h-4zM364 551h6v1h-6z"/>
<path d="M377 539h1v1h-1zM376 540h2v1h-2zM376 541h3v1h-3zM375 542h4v1h-4zM375 543h4v1h-4zM374 544h6v1h-6z"/>
<path d="M387 526h1v1h-1zM386 527h2v1h-2zM386 528h3v1h-3zM385 529h4v1h-4zM385 530h4v1h-4zM384 531h6v1h-6z"/>
<path d="M398 519h1v1h-1zM397 520h2v1h-2zM397 521h3v1h-3zM396 522h4v1h-4zM396 523h4v1h-4zM395 524h6v1h-6z"/>
<path d="M408 519h1v1h-1zM407 520h2v1h-2zM407 521h3v1h-3zM406 522h4v1h-4zM406 523h4v1h-4zM405 524h6v1h-6z"/>
<path d="M418 500h1v1h-1zM417 501h2v1h-2zM417 502h3v1h-3zM416 503h4v1h-4zM416 504h4v1h-4zM415 505h6v1h-6z"/>
<path d="M428 504h1v1h-1zM427 505h2v1h-2zM427 506h3v1h-3zM426 507h4v1h-4zM426 508h4v1h-4zM425 509h6v1h-6z"/>
<path d="M438 497h1v1h-1zM437 498h2v1h-2zM437 499h3v1h-3zM436 500h4v1h-4zM436 501h4v1h-4zM435 502h6v1h-6z"/>
<path d="M449 477h1v1h-1zM448 478h2v1h-2zM448 479h3v1h-3zM447 480h4v1h-4zM447 481h4v1h-4zM446 482h6v1h-6z"/>
<path d="M459 480h1v1h-1zM458 481h2v1h-2zM458 482h3v1h-3zM457 483h4v1h-4zM457 484h4v1h-4zM456 485h6v1h-6z"/>
<path d="M469 450h1v1h-1zM468 451h2v1h-2zM468 452h3v1h-3zM467 453h4v1h-4zM467 454h4v1h-4zM466 455h6v1h-6z"/>
<path d="M479 452h1v1h-1zM478 453h2v1h-2zM478 454h3v1h-3zM477 455h4v1h-4zM477 456h4v1h-4zM476 457h6v1h-6z"/>
<path d="M489 447h1v1h-1zM488 448h2v1h-2zM488 449h3v1h-3zM487 450h4v1h-4zM487 451h4v1h-4zM486 452h6v1h-6z"/>
<path d="M500 453h1v1h-1zM499 454h2v1h-2zM499 455h3v1h-3zM498 456h4v1h-4zM498 457h4v1h-4zM497 458h6v1h-6z"/>
<path d="M510 434h1v1h-1zM509 435h2v1h-2zM509 436h3v1h-3zM508 437h4v1h-4zM508 438h4v1h-4zM507 439h6v1h-6z"/>
<path d="M520 426h1v1h-1zM519 427h2v1h-2zM519 428h3v1h-3zM518 429h4v1h-4zM518 430h4v1h-4zM517 431h6v1h-6z"/>
<path d="M530 421h1v1h-1zM529 422h2v1h-2zM529 423h3v1h-3zM528 424h4v1h-4zM528 425h4v1h-4zM527 426h6v1h-6z"/>
<path d="M541 407h1v1h-1zM540 408h2v1h-2zM540 409h3v1h-3zM539 410h4v1h-4zM539 411h4v1h-4zM538 412h6v1h-6z"/>
<path d="M551 402h1v1h-1zM550 403h2v1h-2zM550 404h3v1h-3zM549 405h4v1h-4zM549 406h4v1h-4zM548 407h6v1h-6z"/>
<path d="M561 381h1v1h-1zM560 382h2v1h-2zM560 383h3v1h-3zM559 384h4v1h-4zM559 385h4v1h-4zM558 386h6v1h-6z"/>
<path d="M571 360h1v1h-1zM570 361h2v1h-2zM570 362h3v1h-3zM569 363h4v1h-4zM569 364h4v1h-4zM568 365h6v1h-6z"/>
<path d="M581 384h1v1h-1zM580 385h2v1h-2zM580 386h3v1h-3zM579 387h4v1h-4zM579 388h4v1h-4zM578 389h6v1h-6z"/>
<path d="M592 360h1v1h-1zM591 361h2v1h-2zM591 362h3v1h-3zM590 363h4v1h-4zM590 364h4v1h-4zM589 365h6v1h-6z"/>
<path d="M602 359h1v1h-1zM601 360h2v1h-2zM601 361h3v1h-3zM600 362h4v1h-4zM600 363h4v1h-4zM599 364h6v1h-6z"/>
<path d="M612 382h1v1h-1zM611 383h2v1h-2zM611 384h3v1h-3zM610 385h4v1h-4zM610 386h4v1h-4zM609 387h6v1h-6z"/>
<path d="M622 365h1v1h-1zM621 366h2v1h-2zM621 367h3v1h-3zM620 368h4v1h-4zM620 369h4v1h-4zM619 370h6v1h-6z"/>
<path d="M632 362h1v1h-1zM631 363h2v1h-2zM631 364h3v1h-3zM630 365h4v1h-4zM630 366h4v1h-4zM629 367h6v1h-6z"/>
<path d="M643 343h1v1h-1zM642 344h2v1h-2zM642 345h3v1h-3zM641 346h4v1h-4zM641 347h4v1h-4zM640 348h6v1h-6z"/>
<path d="M653 365h1v1h-1zM652 366h2v1h-2zM652 367h3v1h-3zM651 368h4v1h-4zM651 369h4v1h-4zM650 370h6v1h-6z"/>
<path d="M663 342h1v1h-1zM662 343h2v1h-2zM662 344h3v1h-3zM661 345h4v1h-4zM661 346h4v1h-4zM660 347h6v1h-6z"/>
<path d="M673 335h1v1h-1zM672 336h2v1h-2zM672 337h3v1h-3zM671 338h4v1h-4zM671 339h4v1h-4zM670 340h6v1h-6z"/>
<path d="M683 353h1v1h-1zM682 354h2v1h-2zM682 355h3v1h-3zM681 356h4v1h-4zM681 357h4v1h-4zM680 358h6v1h-6z"/>
<path d="M694 344h1v1h-1zM693 345h2v1h-2zM693 346h3v1h-3zM692 347h4v1h-4zM692 348h4v1h-4zM691 349h6v1h-6z"/>
<path d="M704 331h1v1h-1zM703 332h2v1h-2zM703 333h3v1h-3zM702 334h4v1h-4zM702 335h4v1h-4zM701 336h6v1h-6z"/>
<path d="M714 306h1v1h-1zM713 307h2v1h-2zM713 308h3v1h-3zM712 309h4v1h-4zM712 310h4v1h-4zM711 311h6v1h-6z"/>
<path d="M724 323h1v1h-1zM723 324h2v1h-2zM723 325h3v1h-3zM722 326h4v1h-4zM722 327h4v1h-4zM721 328h6v1h-6z"/>
<path d="M734 337h1v1h-1zM733 338h2v1h-2zM733 339h3v1h-3zM732 340h4v1h-4zM732 341h4v1h-4zM731 342h6v1h-6z"/>
<path d="M745 329h1v1h-1zM744 330h2v1h-2zM744 331h3v1h-3zM743 332h4v1h-4zM743 333h4v1h-4zM742 334h6v1h-6z"/>
<path d="M755 331h1v1h-1zM754 332h2v1h-2zM754 333h3v1h-3zM753 334h4v1h-4zM753 335h4v1h-4zM752 336h6v1h-6z"/>
<path d="M765 342h1v1h-1zM764 343h2v1h-2zM764 344h3v1h-3zM763 345h4v1h-4zM763 346h4v1h-4zM762 347h6v1h-6z"/>
<path d="M775 343h1v1h-1zM774 344h2v1h-2zM774 345h3v1h-3zM773 346h4v1h-4zM773 347h4v1h-4zM772 348h6v1h-6z"/>
<path d="M786 295h1v1h-1zM785 296h2v1h-2zM785 297h3v1h-3zM784 298h4v1h-4zM784 299h4v1h-4zM783 300h6v1h-6z"/>
<path d="M796 306h1v1h-1zM795 307h2v1h-2zM795 308h3v1h-3zM794 309h4v1h-4zM794 310h4v1h-4zM793 311h6v1h-6z"/>
<path d="M806 332h1v1h-1zM805 333h2v1h-2zM805 334h3v1h-3zM804 335h4v1h-4zM804 336h4v1h-4zM803 337h6v1h-6z"/>
<path d="M816 282h1v1h-1zM815 283h2v1h-2zM815 284h3v1h-3zM814 285h4v1h-4zM814 286h4v1h-4zM813 287h6v1h-6z"/>
<path d="M826 328h1v1h-1zM825 329h2v1h-2zM825 330h3v1h-3zM824 331h4v1h-4zM824 332h4v1h-4zM823 333h6v1h-6z"/>
<path d="M837 313h1v1h-1zM836 314h2v1h-2zM836 315h3v1h-3zM835 316h4v1h-4zM835 317h4v1h-4zM834 318h6v1h-6z"/>
<path d="M847 313h1v1h-1zM846 314h2v1h-2zM846 315h3v1h-3zM845 316h4v1h-4zM845 317h4v1h-4zM844 318h6v1h-6z"/>
<path d="M857 331h1v1h-1zM856 332h2v1h-2zM856 333h3v1h-3zM855 334h4v1h-4zM855 335h4v1h-4zM854 336h6v1h-6z"/>
<path d="M867 297h1v1h-1zM866 298h2v1h-2zM866 299h3v1h-3zM865 300h4v1h-4zM865 301h4v1h-4zM864 302h6v1h-6z"/>
<path d="M877 306h1v1h-1zM876 307h2v1h-2zM876 308h3v1h-3zM875 309h4v1h-4zM875 310h4v1h-4zM874 311h6v1h-6z"/>
<path d="M888 284h1v1h-1zM887 285h2v1h-2zM887 286h3v1h-3zM886 287h4v1h-4zM886 288h4v1h-4zM885 289h6v1h-6z"/>
<path d="M898 293h1v1h-1zM897 294h2v1h-2zM897 295h3v1h-3zM896 296h4v1h-4zM896 297h4v1h-4zM895 298h6v1h-6z"/>
<path d="M908 283h1v1h-1zM907 284h2v1h-2zM907 285h3v1h-3zM906 286h4v1h-4zM906 287h4v1h-4zM905 288h6v1h-6z"/>
<path d="M918 272h1v1h-1zM917 273h2v1h-2zM917 274h3v1h-3zM916 275h4v1h-4zM916 276h4v1h-4zM915 277h6v1h-6z"/>
<path d="M928 282h1v1h-1zM927 283h2v1h-2zM927 284h3v1h-3zM926 285h4v1h-4zM926 286h4v1h-4zM925 287h6v1h-6z"/>
<path d="M939 314h1v1h-1zM938 315h2v1h-2zM938 316h3v1h-3zM937 317h4v1h-4zM937 318h4v1h-4zM936 319h6v1h-6z"/>
<path d="M949 302h1v1h-1zM948 303h2v1h-2zM948 304h3v1h-3zM947 305h4v1h-4zM947 306h4v1h-4zM946 307h6v1h-6z"/>
<path d="M959 235h1v1h-1zM958 236h2v1h-2zM958 237h3v1h-3zM957 238h4v1h-4zM957 239h4v1h-4zM956 240h6v1h-6z"/>
<path d="M969 261h1v1h-1zM968 262h2v1h-2zM968 263h3v1h-3zM967 264h4v1h-4zM967 265h4v1h-4zM966 266h6v1h-6z"/>
<path d="M979 301h1v1h-1zM978 302h2v1h-2zM978 303h3v1h-3zM977 304h4v1h-4zM977 305h4v1h-4zM976 306h6v1h-6z"/>
<path d="M990 224h1v1h-1zM989 225h2v1h-2zM989 226h3v1h-3zM988 227h4v1h-4zM988 228h4v1h-4zM987 229h6v1h-6z"/>
<path d="M1000 270h1v1h-1zM999 271h2v1h-2zM999 272h3v1h-3zM998 273h4v1h-4zM998 274h4v1h-4zM997 275h6v1h-6z"/>
<path d="M1010 294h1v1h-1zM1009 295h2v1h-2zM1009 296h3v1h-3zM1008 297h4v1h-4zM1008 298h4v1h-4zM1007 299h6v1h-6z"/>
<path d="M1020 301h1v1h-1zM1019 302h2v1h-2zM1019 303h3v1h-3zM1018 304h4v1h-4zM1018 305h4v1h-4zM1017 306h6v1h-6z"/>
<path d="M1031 248h1v1h-1zM1030 249h2v1h-2zM1030 250h3v1h-3zM1029 251h4v1h-4zM1029 252h4v1h-4zM1028 253h6v1h-6z"/>
<path d="M1041 280h1v1h-1zM1040 281h2v1h-2zM1040 282h3v1h-3zM1039 283h4v1h-4zM1039 284h4v1h-4zM1038 285h6v1h-6z"/>
<path d="M1051 295h1v1h-1zM1050 296h2v1h-2zM1050 297h3v1h-3zM1049 298h4v1h-4zM1049 299h4v1h-4zM1048 300h6v1h-6z"/>
<path d="M1061 308h1v1h-1zM1060 309h2v1h-2zM1060 310h3v1h-3zM1059 311h4v1h-4zM1059 312h4v1h-4zM1058 313h6v1h-6z"/>
<path d="M1071 291h1v1h-1zM1070 292h2v1h-2zM1070 293h3v1h-3zM1069 294h4v1h-4zM1069 295h4v1h-4zM1068 296h6v1h-6z"/>
<path d="M1082 285h1v1h-1zM1081 286h2v1h-2zM1081 287h3v1h-3zM1080 288h4v1h-4zM1080 289h4v1h-4zM1079 290h6v1h-6z"/>
<path d="M1092 252h1v1h-1zM1091 253h2v1h-2zM1091 254h3v1h-3zM1090 255h4v1h-4zM1090 256h4v1h-4zM1089 257h6v1h-6z"/>
<path d="M1102 230h1v1h-1zM1101 231h2v1h-2zM1101 232h3v1h-3zM1100 233h4v1h-4zM1100 234h4v1h-4zM1099 235h6v1h-6z"/>
<path d="M1112 319h1v1h-1zM1111 320h2v1h-2zM1111 321h3v1h-3zM1110 322h4v1h-4zM1110 323h4v1h-4zM1109 324h6v1h-6z"/>
<path d="M1122 248h1v1h-1zM1121 249h2v1h-2zM1121 250h3v1h-3zM1120 251h4v1h-4zM1120 252h4v1h-4zM1119 253h6v1h-6z"/>
<path d="M1133 255h1v1h-1zM1132 256h2v1h-2zM1132 257h3v1h-3zM1131 258h4v1h-4zM1131 259h4v1h-4zM1130 260h6v1h-6z"/>
<path d="M1143 277h1v1h-1zM1142 278h2v1h-2zM1142 279h3v1h-3zM1141 280h4v1h-4zM1141 281h4v1h-4zM1140 282h6v1h-6z"/>
</g>
<g stroke="#00f" stroke-width="1" shape-rendering="crispEdges">
<line x1="137" y1="213.5" x2="149" y2="213.5"/>
<line x1="142.5" y1="200.0" x2="142.5" y2="227.0"/>
<line x1="148" y1="175.5" x2="159" y2="175.5"/>
<line x1="158" y1="154.5" x2="169" y2="154.5"/>
<line x1="168" y1="143.5" x2="179" y2="143.5"/>
<line x1="178" y1="139.5" x2="189" y2="139.5"/>
<line x1="188" y1="130.5" x2="200" y2="130.5"/>
<line x1="199" y1="128.5" x2="210" y2="128.5"/>
<line x1="209" y1="123.5" x2="220" y2="123.5"/>
<line x1="219" y1="126.5" x2="230" y2="126.5"/>
<line x1="229" y1="123.5" x2="240" y2="123.5"/>
<line x1="239" y1="122.5" x2="251" y2="122.5"/>
<line x1="250" y1="119.5" x2="261" y2="119.5"/>
<line x1="260" y1="117.5" x2="271" y2="117.5"/>
<line x1="270" y1="119.5" x2="281" y2="119.5"/>
<line x1="280" y1="118.5" x2="291" y2="118.5"/>
<line x1="290" y1="119.5" x2="302" y2="119.5"/>
<line x1="301" y1="117.5" x2="312" y2="117.5"/>
<line x1="311" y1="117.5" x2="322" y2="117.5"/>
<line x1="321" y1="118.5" x2="332" y2="118.5"/>
<line x1="331" y1="116.5" x2="342" y2="116.5"/>
<line x1="341" y1="117.5" x2="353" y2="117.5"/>
<line x1="352" y1="116.5" x2="363" y2="116.5"/>
<line x1="362" y1="113.5" x2="373" y2="113.5"/>
<line x1="372" y1="112.5" x2="383" y2="112.5"/>
<line x1="382" y1="110.5" x2="394" y2="110.5"/>
<line x1="393" y1="111.5" x2="404" y2="111.5"/>
<line x1="403" y1="110.5" x2="414" y2="110.5"/>
<line x1="413" y1="108.5" x2="424" y2="108.5"/>
<line x1="423" y1="107.5" x2="434" y2="107.5"/>
<line x1="433" y1="111.5" x2="445" y2="111.5"/>
<line x1="444" y1="109.5" x2="455" y2="109.5"/>
<line x1="454" y1="104.5" x2="465" y2="104.5"/>
<line x1="464" y1="113.5" x2="475" y2="113.5"/>
<line x1="474" y1="107.5" x2="485" y2="107.5"/>
<line x1="484" y1="109.5" x2="496" y2="109.5"/>
<line x1="495" y1="112.5" x2="506" y2="112.5"/>
<line x1="505" y1="108.5" x2="516" y2="108.5"/>
<line x1="515" y1="105.5" x2="526" y2="105.5"/>
<line x1="525" y1="104.5" x2="536" y2="104.5"/>
<line x1="535" y1="110.5" x2="547" y2="110.5"/>
<line x1="546" y1="106.5" x2="557" y2="106.5"/>
<line x1="556" y1="109.5" x2="567" y2="109.5"/>
<line x1="566" y1="108.5" x2="577" y2="108.5"/>
<line x1="576" y1="107.5" x2="587" y2="107.5"/>
<line x1="586" y1="103.5" x2="598" y2="103.5"/>
<line x1="597" y1="107.5" x2="608" y2="107.5"/>
<line x1="607" y1="103.5" x2="618" y2="103.5"/>
<line x1="617" y1="105.5" x2="628" y2="105.5"/>
<line x1="627" y1="103.5" x2="639" y2="103.5"/>
<line x1="638" y1="105.5" x2="649" y2="105.5"/>
<line x1="648" y1="106.5" x2="659" y2="106.5"/>
<line x1="658" y1="103.5" x2="669" y2="103.5"/>
<line x1="668" y1="109.5" x2="679" y2="109.5"/>
<line x1="673.5" y1="105.3" x2="673.5" y2="113.7"/>
<line x1="678" y1="107.5" x2="690" y2="107.5"/>
<line x1="689" y1="105.5" x2="700" y2="105.5"/>
<line x1="699" y1="106.5" x2="710" y2="106.5"/>
<line x1="709" y1="109.5" x2="720" y2="109.5"/>
<line x1="714.5" y1="105.3" x2="714.5" y2="113.7"/>
<line x1="719" y1="104.5" x2="730" y2="104.5"/>
<line x1="729" y1="101.5" x2="741" y2="101.5"/>
<line x1="740" y1="105.5" x2="751" y2="105.5"/>
<line x1="750" y1="102.5" x2="761" y2="102.5"/>
<line x1="760" y1="108.5" x2="771" y2="108.5"/>
<line x1="765.5" y1="103.5" x2="765.5" y2="113.5"/>
<line x1="770" y1="101.5" x2="781" y2="101.5"/>
<line x1="780" y1="103.5" x2="792" y2="103.5"/>
<line x1="791" y1="103.5" x2="802" y2="103.5"/>
<line x1="801" y1="103.5" x2="812" y2="103.5"/>
<line x1="811" y1="101.5" x2="822" y2="101.5"/>
<line x1="821" y1="101.5" x2="832" y2="101.5"/>
<line x1="831" y1="99.5" x2="843" y2="99.5"/>
<line x1="842" y1="101.5" x2="853" y2="101.5"/>
<line x1="852" y1="108.5" x2="863" y2="108.5"/>
<line x1="857.5" y1="103.0" x2="857.5" y2="114.0"/>
<line x1="862" y1="103.5" x2="873" y2="103.5"/>
<line x1="872" y1="104.5" x2="883" y2="104.5"/>
<line x1="877.5" y1="100.3" x2="877.5" y2="108.7"/>
<line x1="882" y1="104.5" x2="894" y2="104.5"/>
<line x1="888.5" y1="100.3" x2="888.5" y2="108.7"/>
<line x1="893" y1="99.5" x2="904" y2="99.5"/>
<line x1="903" y1="99.5" x2="914" y2="99.5"/>
<line x1="913" y1="102.5" x2="924" y2="102.5"/>
<line x1="923" y1="101.5" x2="935" y2="101.5"/>
<line x1="934" y1="104.5" x2="945" y2="104.5"/>
<line x1="939.5" y1="100.0" x2="939.5" y2="109.0"/>
<line x1="944" y1="99.5" x2="955" y2="99.5"/>
<line x1="954" y1="102.5" x2="965" y2="102.5"/>
<line x1="964" y1="105.5" x2="975" y2="105.5"/>
<line x1="969.5" y1="100.5" x2="969.5" y2="110.5"/>
<line x1="974" y1="102.5" x2="986" y2="102.5"/>
<line x1="985" y1="102.5" x2="996" y2="102.5"/>
<line x1="995" y1="99.5" x2="1006" y2="99.5"/>
<line x1="1005" y1="103.5" x2="1016" y2="103.5"/>
<line x1="1010.5" y1="98.5" x2="1010.5" y2="108.5"/>
<line x1="1015" y1="99.5" x2="1026" y2="99.5"/>
<line x1="1025" y1="104.5" x2="1037" y2="104.5"/>
<line x1="1036" y1="99.5" x2="1047" y2="99.5"/>
<line x1="1046" y1="103.5" x2="1057" y2="103.5"/>
<line x1="1051.5" y1="97.9" x2="1051.5" y2="109.1"/>
<line x1="1056" y1="99.5" x2="1067" y2="99.5"/>
<line x1="1066" y1="99.5" x2="1077" y2="99.5"/>
<line x1="1076" y1="104.5" x2="1088" y2="104.5"/>
<line x1="1087" y1="104.5" x2="1098" y2="104.5"/>
<line x1="1097" y1="99.5" x2="1108" y2="99.5"/>
<line x1="1107" y1="99.5" x2="1118" y2="99.5"/>
<line x1="1117" y1="99.5" x2="1128" y2="99.5"/>
<line x1="1127" y1="104.5" x2="1139" y2="104.5"/>
<line x1="1138" y1="104.5" x2="1149" y2="104.5"/>
</g><g fill="#00f">
<path d="M142.50 209.50L143.85 210.30L144.95 211.10L145.70 212.20L146.25 213.50L145.70 214.80L144.95 215.90L143.85 216.70L142.50 217.50L141.15 216.70L140.05 215.90L139.30 214.80L138.75 213.50L139.30 212.20L140.05 211.10L141.15 210.30Z"/>
<path d="M153.50 171.50L154.85 172.30L155.95 173.10L156.70 174.20L157.25 175.50L156.70 176.80L155.95 177.90L154.85 178.70L153.50 179.50L152.15 178.70L151.05 177.90L150.30 176.80L149.75 175.50L150.30 174.20L151.05 173.10L152.15 172.30Z"/>
<path d="M163.50 150.50L164.85 151.30L165.95 152.10L166.70 153.20L167.25 154.50L166.70 155.80L165.95 156.90L164.85 157.70L163.50 158.50L162.15 157.70L161.05 156.90L160.30 155.80L159.75 154.50L160.30 153.20L161.05 152.10L162.15 151.30Z"/>
<path d="M173.50 139.50L174.85 140.30L175.95 141.10L176.70 142.20L177.25 143.50L176.70 144.80L175.95 145.90L174.85 146.70L173.50 147.50L172.15 146.70L171.05 145.90L170.30 144.80L169.75 143.50L170.30 142.20L171.05 141.10L172.15 140.30Z"/>
<path d="M183.50 135.50L184.85 136.30L185.95 137.10L186.70 138.20L187.25 139.50L186.70 140.80L185.95 141.90L184.85 142.70L183.50 143.50L182.15 142.70L181.05 141.90L180.30 140.80L179.75 139.50L180.30 138.20L181.05 137.10L182.15 136.30Z"/>
<path d="M193.50 126.50L194.85 127.30L195.95 128.10L196.70 129.20L197.25 130.50L196.70 131.80L195.95 132.90L194.85 133.70L193.50 134.50L192.15 133.70L191.05 132.90L190.30 131.80L189.75 130.50L190.30 129.20L191.05 128.10L192.15 127.30Z"/>
<path d="M204.50 124.50L205.85 125.30L206.95 126.10L207.70 127.20L208.25 128.50L207.70 129.80L206.95 130.90L205.85 131.70L204.50 132.50L203.15 131.70L202.05 130.90L201.30 129.80L200.75 128.50L201.30 127.20L202.05 126.10L203.15 125.30Z"/>
<path d="M214.50 119.50L215.85 120.30L216.95 121.10L217.70 122.20L218.25 123.50L217.70 124.80L216.95 125.90L215.85 126.70L214.50 127.50L213.15 126.70L212.05 125.90L211.30 124.80L210.75 123.50L211.30 122.20L212.05 121.10L213.15 120.30Z"/>
<path d="M224.50 122.50L225.85 123.30L226.95 124.10L227.70 125.20L228.25 126.50L227.70 127.80L226.95 128.90L225.85 129.70L224.50 130.50L223.15 129.70L222.05 128.90L221.30 127.80L220.75 126.50L221.30 125.20L222.05 124.10L223.15 123.30Z"/>
<path d="M234.50 119.50L235.85 120.30L236.95 121.10L237.70 122.20L238.25 123.50L237.70 124.80L236.95 125.90L235.85 126.70L234.50 127.50L233.15 126.70L232.05 125.90L231.30 124.80L230.75 123.50L231.30 122.20L232.05 121.10L233.15 120.30Z"/>
<path d="M244.50 118.50L245.85 119.30L246.95 120.10L247.70 121.20L248.25 122.50L247.70 123.80L246.95 124.90L245.85 125.70L244.50 126.50L243.15 125.70L242.05 124.90L241.30 123.80L240.75 122.50L241.30 121.20L242.05 120.10L243.15 119.30Z"/>
<path d="M255.50 115.50L256.85 116.30L257.95 117.10L258.70 118.20L259.25 119.50L258.70 120.80L257.95 121.90L256.85 122.70L255.50 123.50L254.15 122.70L253.05 121.90L252.30 120.80L251.75 119.50L252.30 118.20L253.05 117.10L254.15 116.30Z"/>
<path d="M265.50 113.50L266.85 114.30L267.95 115.10L268.70 116.20L269.25 117.50L268.70 118.80L267.95 119.90L266.85 120.70L265.50 121.50L264.15 120.70L263.05 119.90L262.30 118.80L261.75 117.50L262.30 116.20L263.05 115.10L264.15 114.30Z"/>
<path d="M275.50 115.50L276.85 116.30L277.95 117.10L278.70 118.20L279.25 119.50L278.70 120.80L277.95 121.90L276.85 122.70L275.50 123.50L274.15 122.70L273.05 121.90L272.30 120.80L271.75 119.50L272.30 118.20L273.05 117.10L274.15 116.30Z"/>
<path d="M285.50 114.50L286.85 115.30L287.95 116.10L288.70 117.20L289.25 118.50L288.70 119.80L287.95 120.90L286.85 121.70L285.50 122.50L284.15 121.70L283.05 120.90L282.30 119.80L281.75 118.50L282.30 117.20L283.05 116.10L284.15 115.30Z"/>
<path d="M296.50 115.50L297.85 116.30L298.95 117.10L299.70 118.20L300.25 119.50L299.70 120.80L298.95 121.90L297.85 122.70L296.50 123.50L295.15 122.70L294.05 121.90L293.30 120.80L292.75 119.50L293.30 118.20L294.05 117.10L295.15 116.30Z"/>
<path d="M306.50 113.50L307.85 114.30L308.95 115.10L309.70 116.20L310.25 117.50L309.70 118.80L308.95 119.90L307.85 120.70L306.50 121.50L305.15 120.70L304.05 119.90L303.30 118.80L302.75 117.50L303.30 116.20L304.05 115.10L305.15 114.30Z"/>
<path d="M316.50 113.50L317.85 114.30L318.95 115.10L319.70 116.20L320.25 117.50L319.70 118.80L318.95 119.90L317.85 120.70L316.50 121.50L315.15 120.70L314.05 119.90L313.30 118.80L312.75 117.50L313.30 116.20L314.05 115.10L315.15 114.30Z"/>
<path d="M326.50 114.50L327.85 115.30L328.95 116.10L329.70 117.20L330.25 118.50L329.70 119.80L328.95 120.90L327.85 121.70L326.50 122.50L325.15 121.70L324.05 120.90L323.30 119.80L322.75 118.50L323.30 117.20L324.05 116.10L325.15 115.30Z"/>
<path d="M336.50 112.50L337.85 113.30L338.95 114.10L339.70 115.20L340.25 116.50L339.70 117.80L338.95 118.90L337.85 119.70L336.50 120.50L335.15 119.70L334.05 118.90L333.30 117.80L332.75 116.50L333.30 115.20L334.05 114.10L335.15 113.30Z"/>
<path d="M347.50 113.50L348.85 114.30L349.95 115.10L350.70 116.20L351.25 117.50L350.70 118.80L349.95 119.90L348.85 120.70L347.50 121.50L346.15 120.70L345.05 119.90L344.30 118.80L343.75 117.50L344.30 116.20L345.05 115.10L346.15 114.30Z"/>
<path d="M357.50 112.50L358.85 113.30L359.95 114.10L360.70 115.20L361.25 116.50L360.70 117.80L359.95 118.90L358.85 119.70L357.50 120.50L356.15 119.70L355.05 118.90L354.30 117.80L353.75 116.50L354.30 115.20L355.05 114.10L356.15 113.30Z"/>
<path d="M367.50 109.50L368.85 110.30L369.95 111.10L370.70 112.20L371.25 113.50L370.70 114.80L369.95 115.90L368.85 116.70L367.50 117.50L366.15 116.70L365.05 115.90L364.30 114.80L363.75 113.50L364.30 112.20L365.05 111.10L366.15 110.30Z"/>
<path d="M377.50 108.50L378.85 109.30L379.95 110.10L380.70 111.20L381.25 112.50L380.70 113.80L379.95 114.90L378.85 115.70L377.50 116.50L376.15 115.70L375.05 114.90L374.30 113.80L373.75 112.50L374.30 111.20L375.05 110.10L376.15 109.30Z"/>
<path d="M387.50 106.50L388.85 107.30L389.95 108.10L390.70 109.20L391.25 110.50L390.70 111.80L389.95 112.90L388.85 113.70L387.50 114.50L386.15 113.70L385.05 112.90L384.30 111.80L383.75 110.50L384.30 109.20L385.05 108.10L386.15 107.30Z"/>
<path d="M398.50 107.50L399.85 108.30L400.95 109.10L401.70 110.20L402.25 111.50L401.70 112.80L400.95 113.90L399.85 114.70L398.50 115.50L397.15 114.70L396.05 113.90L395.30 112.80L394.75 111.50L395.30 110.20L396.05 109.10L397.15 108.30Z"/>
<path d="M408.50 106.50L409.85 107.30L410.95 108.10L411.70 109.20L412.25 110.50L411.70 111.80L410.95 112.90L409.85 113.70L408.50 114.50L407.15 113.70L406.05 112.90L405.30 111.80L404.75 110.50L405.30 109.20L406.05 108.10L407.15 107.30Z"/>
<path d="M418.50 104.50L419.85 105.30L420.95 106.10L421.70 107.20L422.25 108.50L421.70 109.80L420.95 110.90L419.85 111.70L418.50 112.50L417.15 111.70L416.05 110.90L415.30 109.80L414.75 108.50L415.30 107.20L416.05 106.10L417.15 105.30Z"/>
<path d="M428.50 103.50L429.85 104.30L430.95 105.10L431.70 106.20L432.25 107.50L431.70 108.80L430.95 109.90L429.85 110.70L428.50 111.50L427.15 110.70L426.05 109.90L425.30 108.80L424.75 107.50L425.30 106.20L426.05 105.10L427.15 104.30Z"/>
<path d="M438.50 107.50L439.85 108.30L440.95 109.10L441.70 110.20L442.25 111.50L441.70 112.80L440.95 113.90L439.85 114.70L438.50 115.50L437.15 114.70L436.05 113.90L435.30 112.80L434.75 111.50L435.30 110.20L436.05 109.10L437.15 108.30Z"/>
<path d="M449.50 105.50L450.85 106.30L451.95 107.10L452.70 108.20L453.25 109.50L452.70 110.80L451.95 111.90L450.85 112.70L449.50 113.50L448.15 112.70L447.05 111.90L446.30 110.80L445.75 109.50L446.30 108.20L447.05 107.10L448.15 106.30Z"/>
<path d="M459.50 100.50L460.85 101.30L461.95 102.10L462.70 103.20L463.25 104.50L462.70 105.80L461.95 106.90L460.85 107.70L459.50 108.50L458.15 107.70L457.05 106.90L456.30 105.80L455.75 104.50L456.30 103.20L457.05 102.10L458.15 101.30Z"/>
<path d="M469.50 109.50L470.85 110.30L471.95 111.10L472.70 112.20L473.25 113.50L472.70 114.80L471.95 115.90L470.85 116.70L469.50 117.50L468.15 116.70L467.05 115.90L466.30 114.80L465.75 113.50L466.30 112.20L467.05 111.10L468.15 110.30Z"/>
<path d="M479.50 103.50L480.85 104.30L481.95 105.10L482.70 106.20L483.25 107.50L482.70 108.80L481.95 109.90L480.85 110.70L479.50 111.50L478.15 110.70L477.05 109.90L476.30 108.80L475.75 107.50L476.30 106.20L477.05 105.10L478.15 104.30Z"/>
<path d="M489.50 105.50L490.85 106.30L491.95 107.10L492.70 108.20L493.25 109.50L492.70 110.80L491.95 111.90L490.85 112.70L489.50 113.50L488.15 112.70L487.05 111.90L486.30 110.80L485.75 109.50L486.30 108.20L487.05 107.10L488.15 106.30Z"/>
<path d="M500.50 108.50L501.85 109.30L502.95 110.10L503.70 111.20L504.25 112.50L503.70 113.80L502.95 114.90L501.85 115.70L500.50 116.50L499.15 115.70L498.05 114.90L497.30 113.80L496.75 112.50L497.30 111.20L498.05 110.10L499.15 109.30Z"/>
<path d="M510.50 104.50L511.85 105.30L512.95 106.10L513.70 107.20L514.25 108.50L513.70 109.80L512.95 110.90L511.85 111.70L510.50 112.50L509.15 111.70L508.05 110.90L507.30 109.80L506.75 108.50L507.30 107.20L508.05 106.10L509.15 105.30Z"/>
<path d="M520.50 101.50L521.85 102.30L522.95 103.10L523.70 104.20L524.25 105.50L523.70 106.80L522.95 107.90L521.85 108.70L520.50 109.50L519.15 108.70L518.05 107.90L517.30 106.80L516.75 105.50L517.30 104.20L518.05 103.10L519.15 102.30Z"/>
<path d="M530.50 100.50L531.85 101.30L532.95 102.10L533.70 103.20L534.25 104.50L533.70 105.80L532.95 106.90L531.85 107.70L530.50 108.50L529.15 107.70L528.05 106.90L527.30 105.80L526.75 104.50L527.30 103.20L528.05 102.10L529.15 101.30Z"/>
<path d="M541.50 106.50L542.85 107.30L543.95 108.10L544.70 109.20L545.25 110.50L544.70 111.80L543.95 112.90L542.85 113.70L541.50 114.50L540.15 113.70L539.05 112.90L538.30 111.80L537.75 110.50L538.30 109.20L539.05 108.10L540.15 107.30Z"/>
<path d="M551.50 102.50L552.85 103.30L553.95 104.10L554.70 105.20L555.25 106.50L554.70 107.80L553.95 108.90L552.85 109.70L551.50 110.50L550.15 109.70L549.05 108.90L548.30 107.80L547.75 106.50L548.30 105.20L549.05 104.10L550.15 103.30Z"/>
<path d="M561.50 105.50L562.85 106.30L563.95 107.10L564.70 108.20L565.25 109.50L564.70 110.80L563.95 111.90L562.85 112.70L561.50 113.50L560.15 112.70L559.05 111.90L558.30 110.80L557.75 109.50L558.30 108.20L559.05 107.10L560.15 106.30Z"/>
<path d="M571.50 104.50L572.85 105.30L573.95 106.10L574.70 107.20L575.25 108.50L574.70 109.80L573.95 110.90L572.85 111.70L571.50 112.50L570.15 111.70L569.05 110.90L568.30 109.80L567.75 108.50L568.30 107.20L569.05 106.10L570.15 105.30Z"/>
<path d="M581.50 103.50L582.85 104.30L583.95 105.10L584.70 106.20L585.25 107.50L584.70 108.80L583.95 109.90L582.85 110.70L581.50 111.50L580.15 110.70L579.05 109.90L578.30 108.80L577.75 107.50L578.30 106.20L579.05 105.10L580.15 104.30Z"/>
<path d="M592.50 99.50L593.85 100.30L594.95 101.10L595.70 102.20L596.25 103.50L595.70 104.80L594.95 105.90L593.85 106.70L592.50 107.50L591.15 106.70L590.05 105.90L589.30 104.80L588.75 103.50L589.30 102.20L590.05 101.10L591.15 100.30Z"/>
<path d="M602.50 103.50L603.85 104.30L604.95 105.10L605.70 106.20L606.25 107.50L605.70 108.80L604.95 109.90L603.85 110.70L602.50 111.50L601.15 110.70L600.05 109.90L599.30 108.80L598.75 107.50L599.30 106.20L600.05 105.10L601.15 104.30Z"/>
<path d="M612.50 99.50L613.85 100.30L614.95 101.10L615.70 102.20L616.25 103.50L615.70 104.80L614.95 105.90L613.85 106.70L612.50 107.50L611.15 106.70L610.05 105.90L609.30 104.80L608.75 103.50L609.30 102.20L610.05 101.10L611.15 100.30Z"/>
<path d="M622.50 101.50L623.85 102.30L624.95 103.10L625.70 104.20L626.25 105.50L625.70 106.80L624.95 107.90L623.85 108.70L622.50 109.50L621.15 108.70L620.05 107.90L619.30 106.80L618.75 105.50L619.30 104.20L620.05 103.10L621.15 102.30Z"/>
<path d="M632.50 99.50L633.85 100.30L634.95 101.10L635.70 102.20L636.25 103.50L635.70 104.80L634.95 105.90L633.85 106.70L632.50 107.50L631.15 106.70L630.05 105.90L629.30 104.80L628.75 103.50L629.30 102.20L630.05 101.10L631.15 100.30Z"/>
<path d="M643.50 101.50L644.85 102.30L645.95 103.10L646.70 104.20L647.25 105.50L646.70 106.80L645.95 107.90L644.85 108.70L643.50 109.50L642.15 108.70L641.05 107.90L640.30 106.80L639.75 105.50L640.30 104.20L641.05 103.10L642.15 102.30Z"/>
<path d="M653.50 102.50L654.85 103.30L655.95 104.10L656.70 105.20L657.25 106.50L656.70 107.80L655.95 108.90L654.85 109.70L653.50 110.50L652.15 109.70L651.05 108.90L650.30 107.80L649.75 106.50L650.30 105.20L651.05 104.10L652.15 103.30Z"/>
<path d="M663.50 99.50L664.85 100.30L665.95 101.10L666.70 102.20L667.25 103.50L666.70 104.80L665.95 105.90L664.85 106.70L663.50 107.50L662.15 106.70L661.05 105.90L660.30 104.80L659.75 103.50L660.30 102.20L661.05 101.10L662.15 100.30Z"/>
<path d="M673.50 105.50L674.85 106.30L675.95 107.10L676.70 108.20L677.25 109.50L676.70 110.80L675.95 111.90L674.85 112.70L673.50 113.50L672.15 112.70L671.05 111.90L670.30 110.80L669.75 109.50L670.30 108.20L671.05 107.10L672.15 106.30Z"/>
<path d="M683.50 103.50L684.85 104.30L685.95 105.10L686.70 106.20L687.25 107.50L686.70 108.80L685.95 109.90L684.85 110.70L683.50 111.50L682.15 110.70L681.05 109.90L680.30 108.80L679.75 107.50L680.30 106.20L681.05 105.10L682.15 104.30Z"/>
<path d="M694.50 101.50L695.85 102.30L696.95 103.10L697.70 104.20L698.25 105.50L697.70 106.80L696.95 107.90L695.85 108.70L694.50 109.50L693.15 108.70L692.05 107.90L691.30 106.80L690.75 105.50L691.30 104.20L692.05 103.10L693.15 102.30Z"/>
<path d="M704.50 102.50L705.85 103.30L706.95 104.10L707.70 105.20L708.25 106.50L707.70 107.80L706.95 108.90L705.85 109.70L704.50 110.50L703.15 109.70L702.05 108.90L701.30 107.80L700.75 106.50L701.30 105.20L702.05 104.10L703.15 103.30Z"/>
<path d="M714.50 105.50L715.85 106.30L716.95 107.10L717.70 108.20L718.25 109.50L717.70 110.80L716.95 111.90L715.85 112.70L714.50 113.50L713.15 112.70L712.05 111.90L711.30 110.80L710.75 109.50L711.30 108.20L712.05 107.10L713.15 106.30Z"/>
<path d="M724.50 100.50L725.85 101.30L726.95 102.10L727.70 103.20L728.25 104.50L727.70 105.80L726.95 106.90L725.85 107.70L724.50 108.50L723.15 107.70L722.05 106.90L721.30 105.80L720.75 104.50L721.30 103.20L722.05 102.10L723.15 101.30Z"/>
<path d="M734.50 97.50L735.85 98.30L736.95 99.10L737.70 100.20L738.25 101.50L737.70 102.80L736.95 103.90L735.85 104.70L734.50 105.50L733.15 104.70L732.05 103.90L731.30 102.80L730.75 101.50L731.30 100.20L732.05 99.10L733.15 98.30Z"/>
<path d="M745.50 101.50L746.85 102.30L747.95 103.10L748.70 104.20L749.25 105.50L748.70 106.80L747.95 107.90L746.85 108.70L745.50 109.50L744.15 108.70L743.05 107.90L742.30 106.80L741.75 105.50L742.30 104.20L743.05 103.10L744.15 102.30Z"/>
<path d="M755.50 98.50L756.85 99.30L757.95 100.10L758.70 101.20L759.25 102.50L758.70 103.80L757.95 104.90L756.85 105.70L755.50 106.50L754.15 105.70L753.05 104.90L752.30 103.80L751.75 102.50L752.30 101.20L753.05 100.10L754.15 99.30Z"/>
<path d="M765.50 104.50L766.85 105.30L767.95 106.10L768.70 107.20L769.25 108.50L768.70 109.80L767.95 110.90L766.85 111.70L765.50 112.50L764.15 111.70L763.05 110.90L762.30 109.80L761.75 108.50L762.30 107.20L763.05 106.10L764.15 105.30Z"/>
<path d="M775.50 97.50L776.85 98.30L777.95 99.10L778.70 100.20L779.25 101.50L778.70 102.80L777.95 103.90L776.85 104.70L775.50 105.50L774.15 104.70L773.05 103.90L772.30 102.80L771.75 101.50L772.30 100.20L773.05 99.10L774.15 98.30Z"/>
<path d="M786.50 99.50L787.85 100.30L788.95 101.10L789.70 102.20L790.25 103.50L789.70 104.80L788.95 105.90L787.85 106.70L786.50 107.50L785.15 106.70L784.05 105.90L783.30 104.80L782.75 103.50L783.30 102.20L784.05 101.10L785.15 100.30Z"/>
<path d="M796.50 99.50L797.85 100.30L798.95 101.10L799.70 102.20L800.25 103.50L799.70 104.80L798.95 105.90L797.85 106.70L796.50 107.50L795.15 106.70L794.05 105.90L793.30 104.80L792.75 103.50L793.30 102.20L794.05 101.10L795.15 100.30Z"/>
<path d="M806.50 99.50L807.85 100.30L808.95 101.10L809.70 102.20L810.25 103.50L809.70 104.80L808.95 105.90L807.85 106.70L806.50 107.50L805.15 106.70L804.05 105.90L803.30 104.80L802.75 103.50L803.30 102.20L804.05 101.10L805.15 100.30Z"/>
<path d="M816.50 97.50L817.85 98.30L818.95 99.10L819.70 100.20L820.25 101.50L819.70 102.80L818.95 103.90L817.85 104.70L816.50 105.50L815.15 104.70L814.05 103.90L813.30 102.80L812.75 101.50L813.30 100.20L814.05 99.10L815.15 98.30Z"/>
<path d="M826.50 97.50L827.85 98.30L828.95 99.10L829.70 100.20L830.25 101.50L829.70 102.80L828.95 103.90L827.85 104.70L826.50 105.50L825.15 104.70L824.05 103.90L823.30 102.80L822.75 101.50L823.30 100.20L824.05 99.10L825.15 98.30Z"/>
<path d="M837.50 95.50L838.85 96.30L839.95 97.10L840.70 98.20L841.25 99.50L840.70 100.80L839.95 101.90L838.85 102.70L837.50 103.50L836.15 102.70L835.05 101.90L834.30 100.80L833.75 99.50L834.30 98.20L835.05 97.10L836.15 96.30Z"/>
<path d="M847.50 97.50L848.85 98.30L849.95 99.10L850.70 100.20L851.25 101.50L850.70 102.80L849.95 103.90L848.85 104.70L847.50 105.50L846.15 104.70L845.05 103.90L844.30 102.80L843.75 101.50L844.30 100.20L845.05 99.10L846.15 98.30Z"/>
<path d="M857.50 104.50L858.85 105.30L859.95 106.10L860.70 107.20L861.25 108.50L860.70 109.80L859.95 110.90L858.85 111.70L857.50 112.50L856.15 111.70L855.05 110.90L854.30 109.80L853.75 108.50L854.30 107.20L855.05 106.10L856.15 105.30Z"/>
<path d="M867.50 99.50L868.85 100.30L869.95 101.10L870.70 102.20L871.25 103.50L870.70 104.80L869.95 105.90L868.85 106.70L867.50 107.50L866.15 106.70L865.05 105.90L864.30 104.80L863.75 103.50L864.30 102.20L865.05 101.10L866.15 100.30Z"/>
<path d="M877.50 100.50L878.85 101.30L879.95 102.10L880.70 103.20L881.25 104.50L880.70 105.80L879.95 106.90L878.85 107.70L877.50 108.50L876.15 107.70L875.05 106.90L874.30 105.80L873.75 104.50L874.30 103.20L875.05 102.10L876.15 101.30Z"/>
<path d="M888.50 100.50L889.85 101.30L890.95 102.10L891.70 103.20L892.25 104.50L891.70 105.80L890.95 106.90L889.85 107.70L888.50 108.50L887.15 107.70L886.05 106.90L885.30 105.80L884.75 104.50L885.30 103.20L886.05 102.10L887.15 101.30Z"/>
<path d="M898.50 95.50L899.85 96.30L900.95 97.10L901.70 98.20L902.25 99.50L901.70 100.80L900.95 101.90L899.85 102.70L898.50 103.50L897.15 102.70L896.05 101.90L895.30 100.80L894.75 99.50L895.30 98.20L896.05 97.10L897.15 96.30Z"/>
<path d="M908.50 95.50L909.85 96.30L910.95 97.10L911.70 98.20L912.25 99.50L911.70 100.80L910.95 101.90L909.85 102.70L908.50 103.50L907.15 102.70L906.05 101.90L905.30 100.80L904.75 99.50L905.30 98.20L906.05 97.10L907.15 96.30Z"/>
<path d="M918.50 98.50L919.85 99.30L920.95 100.10L921.70 101.20L922.25 102.50L921.70 103.80L920.95 104.90L919.85 105.70L918.50 106.50L917.15 105.70L916.05 104.90L915.30 103.80L914.75 102.50L915.30 101.20L916.05 100.10L917.15 99.30Z"/>
<path d="M928.50 97.50L929.85 98.30L930.95 99.10L931.70 100.20L932.25 101.50L931.70 102.80L930.95 103.90L929.85 104.70L928.50 105.50L927.15 104.70L926.05 103.90L925.30 102.80L924.75 101.50L925.30 100.20L926.05 99.10L927.15 98.30Z"/>
<path d="M939.50 100.50L940.85 101.30L941.95 102.10L942.70 103.20L943.25 104.50L942.70 105.80L941.95 106.90L940.85 107.70L939.50 108.50L938.15 107.70L937.05 106.90L936.30 105.80L935.75 104.50L936.30 103.20L937.05 102.10L938.15 101.30Z"/>
<path d="M949.50 95.50L950.85 96.30L951.95 97.10L952.70 98.20L953.25 99.50L952.70 100.80L951.95 101.90L950.85 102.70L949.50 103.50L948.15 102.70L947.05 101.90L946.30 100.80L945.75 99.50L946.30 98.20L947.05 97.10L948.15 96.30Z"/>
<path d="M959.50 98.50L960.85 99.30L961.95 100.10L962.70 101.20L963.25 102.50L962.70 103.80L961.95 104.90L960.85 105.70L959.50 106.50L958.15 105.70L957.05 104.90L956.30 103.80L955.75 102.50L956.30 101.20L957.05 100.10L958.15 99.30Z"/>
<path d="M969.50 101.50L970.85 102.30L971.95 103.10L972.70 104.20L973.25 105.50L972.70 106.80L971.95 107.90L970.85 108.70L969.50 109.50L968.15 108.70L967.05 107.90L966.30 106.80L965.75 105.50L966.30 104.20L967.05 103.10L968.15 102.30Z"/>
<path d="M979.50 98.50L980.85 99.30L981.95 100.10L982.70 101.20L983.25 102.50L982.70 103.80L981.95 104.90L980.85 105.70L979.50 106.50L978.15 105.70L977.05 104.90L976.30 103.80L975.75 102.50L976.30 101.20L977.05 100.10L978.15 99.30Z"/>
<path d="M990.50 98.50L991.85 99.30L992.95 100.10L993.70 101.20L994.25 102.50L993.70 103.80L992.95 104.90L991.85 105.70L990.50 106.50L989.15 105.70L988.05 104.90L987.30 103.80L986.75 102.50L987.30 101.20L988.05 100.10L989.15 99.30Z"/>
<path d="M1000.50 95.50L1001.85 96.30L1002.95 97.10L1003.70 98.20L1004.25 99.50L1003.70 100.80L1002.95 101.90L1001.85 102.70L1000.50 103.50L999.15 102.70L998.05 101.90L997.30 100.80L996.75 99.50L997.30 98.20L998.05 97.10L999.15 96.30Z"/>
<path d="M1010.50 99.50L1011.85 100.30L1012.95 101.10L1013.70 102.20L1014.25 103.50L1013.70 104.80L1012.95 105.90L1011.85 106.70L1010.50 107.50L1009.15 106.70L1008.05 105.90L1007.30 104.80L1006.75 103.50L1007.30 102.20L1008.05 101.10L1009.15 100.30Z"/>
<path d="M1020.50 95.50L1021.85 96.30L1022.95 97.10L1023.70 98.20L1024.25 99.50L1023.70 100.80L1022.95 101.90L1021.85 102.70L1020.50 103.50L1019.15 102.70L1018.05 101.90L1017.30 100.80L1016.75 99.50L1017.30 98.20L1018.05 97.10L1019.15 96.30Z"/>
<path d="M1031.50 100.50L1032.85 101.30L1033.95 102.10L1034.70 103.20L1035.25 104.50L1034.70 105.80L1033.95 106.90L1032.85 107.70L1031.50 108.50L1030.15 107.70L1029.05 106.90L1028.30 105.80L1027.75 104.50L1028.30 103.20L1029.05 102.10L1030.15 101.30Z"/>
<path d="M1041.50 95.50L1042.85 96.30L1043.95 97.10L1044.70 98.20L1045.25 99.50L1044.70 100.80L1043.95 101.90L1042.85 102.70L1041.50 103.50L1040.15 102.70L1039.05 101.90L1038.30 100.80L1037.75 99.50L1038.30 98.20L1039.05 97.10L1040.15 96.30Z"/>
<path d="M1051.50 99.50L1052.85 100.30L1053.95 101.10L1054.70 102.20L1055.25 103.50L1054.70 104.80L1053.95 105.90L1052.85 106.70L1051.50 107.50L1050.15 106.70L1049.05 105.90L1048.30 104.80L1047.75 103.50L1048.30 102.20L1049.05 101.10L1050.15 100.30Z"/>
<path d="M1061.50 95.50L1062.85 96.30L1063.95 97.10L1064.70 98.20L1065.25 99.50L1064.70 100.80L1063.95 101.90L1062.85 102.70L1061.50 103.50L1060.15 102.70L1059.05 101.90L1058.30 100.80L1057.75 99.50L1058.30 98.20L1059.05 97.10L1060.15 96.30Z"/>
<path d="M1071.50 95.50L1072.85 96.30L1073.95 97.10L1074.70 98.20L1075.25 99.50L1074.70 100.80L1073.95 101.90L1072.85 102.70L1071.50 103.50L1070.15 102.70L1069.05 101.90L1068.30 100.80L1067.75 99.50L1068.30 98.20L1069.05 97.10L1070.15 96.30Z"/>
<path d="M1082.50 100.50L1083.85 101.30L1084.95 102.10L1085.70 103.20L1086.25 104.50L1085.70 105.80L1084.95 106.90L1083.85 107.70L1082.50 108.50L1081.15 107.70L1080.05 106.90L1079.30 105.80L1078.75 104.50L1079.30 103.20L1080.05 102.10L1081.15 101.30Z"/>
<path d="M1092.50 100.50L1093.85 101.30L1094.95 102.10L1095.70 103.20L1096.25 104.50L1095.70 105.80L1094.95 106.90L1093.85 107.70L1092.50 108.50L1091.15 107.70L1090.05 106.90L1089.30 105.80L1088.75 104.50L1089.30 103.20L1090.05 102.10L1091.15 101.30Z"/>
<path d="M1102.50 95.50L1103.85 96.30L1104.95 97.10L1105.70 98.20L1106.25 99.50L1105.70 100.80L1104.95 101.90L1103.85 102.70L1102.50 103.50L1101.15 102.70L1100.05 101.90L1099.30 100.80L1098.75 99.50L1099.30 98.20L1100.05 97.10L1101.15 96.30Z"/>
<path d="M1112.50 95.50L1113.85 96.30L1114.95 97.10L1115.70 98.20L1116.25 99.50L1115.70 100.80L1114.95 101.90L1113.85 102.70L1112.50 103.50L1111.15 102.70L1110.05 101.90L1109.30 100.80L1108.75 99.50L1109.30 98.20L1110.05 97.10L1111.15 96.30Z"/>
<path d="M1122.50 95.50L1123.85 96.30L1124.95 97.10L1125.70 98.20L1126.25 99.50L1125.70 100.80L1124.95 101.90L1123.85 102.70L1122.50 103.50L1121.15 102.70L1120.05 101.90L1119.30 100.80L1118.75 99.50L1119.30 98.20L1120.05 97.10L1121.15 96.30Z"/>
<path d="M1133.50 100.50L1134.85 101.30L1135.95 102.10L1136.70 103.20L1137.25 104.50L1136.70 105.80L1135.95 106.90L1134.85 107.70L1133.50 108.50L1132.15 107.70L1131.05 106.90L1130.30 105.80L1129.75 104.50L1130.30 103.20L1131.05 102.10L1132.15 101.30Z"/>
<path d="M1143.50 100.50L1144.85 101.30L1145.95 102.10L1146.70 103.20L1147.25 104.50L1146.70 105.80L1145.95 106.90L1144.85 107.70L1143.50 108.50L1142.15 107.70L1141.05 106.90L1140.30 105.80L1139.75 104.50L1140.30 103.20L1141.05 102.10L1142.15 101.30Z"/>
</g>
<rect x="1026" y="105" width="126" height="47.7" fill="#000"/>
<rect x="1020.5" y="99.5" width="128" height="50" fill="#f2f2f2" stroke="#000" stroke-width="1" shape-rendering="crispEdges"/>
<circle cx="1027.4" cy="112.4" r="3.6" fill="#00f"/>
<path d="M1027 133h1v1h-1zM1026 134h2v1h-2zM1026 135h3v1h-3zM1025 136h4v1h-4zM1025 137h4v1h-4zM1024 138h6v1h-6z" fill="#f00" shape-rendering="crispEdges"/>
<g style="will-change:transform">
<text transform="translate(1033,117) scale(1,1.07)" font-size="19.3">True Muon</text>
<text transform="translate(1033,142) scale(1,1.07)" font-size="19.0">Fake Muon</text>
<text transform="translate(106.43,907) scale(1,1.07)" font-size="28">0</text>
<path transform="translate(90.85,827.80) scale(0.01367,-0.01347)" d="M806 0H525V1059Q371 915 162 846V1101Q272 1137 401 1237.5Q530 1338 578 1472H806Z"/>
<text transform="translate(106.43,828) scale(1,1.07)" font-size="28">0</text>
<text transform="translate(90.85,748) scale(1,1.07)" font-size="28">20</text>
<text transform="translate(90.85,668) scale(1,1.07)" font-size="28">30</text>
<text transform="translate(90.85,588) scale(1,1.07)" font-size="28">40</text>
<text transform="translate(90.85,509) scale(1,1.07)" font-size="28">50</text>
<text transform="translate(90.85,429) scale(1,1.07)" font-size="28">60</text>
<text transform="translate(90.85,349) scale(1,1.07)" font-size="28">70</text>
<text transform="translate(90.85,270) scale(1,1.07)" font-size="28">80</text>
<text transform="translate(90.85,190) scale(1,1.07)" font-size="28">90</text>
<path transform="translate(75.28,109.80) scale(0.01367,-0.01347)" d="M806 0H525V1059Q371 915 162 846V1101Q272 1137 401 1237.5Q530 1338 578 1472H806Z"/>
<text transform="translate(90.85,110) scale(1,1.07)" font-size="28">00</text>
<text transform="translate(305.41,935) scale(1,1.07)" font-size="28">20</text>
<text transform="translate(509.57,935) scale(1,1.07)" font-size="28">40</text>
<text transform="translate(713.73,935) scale(1,1.07)" font-size="28">60</text>
<text transform="translate(917.89,935) scale(1,1.07)" font-size="28">80</text>
<path transform="translate(1114.26,934.80) scale(0.01367,-0.01347)" d="M806 0H525V1059Q371 915 162 846V1101Q272 1137 401 1237.5Q530 1338 578 1472H806Z"/>
<text transform="translate(1129.84,935) scale(1,1.07)" font-size="28">00</text>
<text transform="translate(1148,974) scale(1,1.07)" font-size="28" text-anchor="end">Downstream Muon Momentum / MeV/c</text>
<text transform="translate(48.3,99.3) rotate(-90) scale(1,1.07)" font-size="28" text-anchor="end">Efficiency / %</text>
<path d="M1153.1 881.8L1166.6 895.3M1166.6 881.8L1153.1 895.3" stroke="#000" stroke-width="1.5" fill="none"/>
<path transform="translate(1166.80,895.80) scale(0.01367,-0.01347)" d="M806 0H525V1059Q371 915 162 846V1101Q272 1137 401 1237.5Q530 1338 578 1472H806Z"/>
<text transform="translate(1182.37,896) scale(1,1.07)" font-size="28">0</text>
<text transform="translate(1197.8,883) scale(1,1.06)" font-size="20">3</text>
</g>
</svg></body></html>
